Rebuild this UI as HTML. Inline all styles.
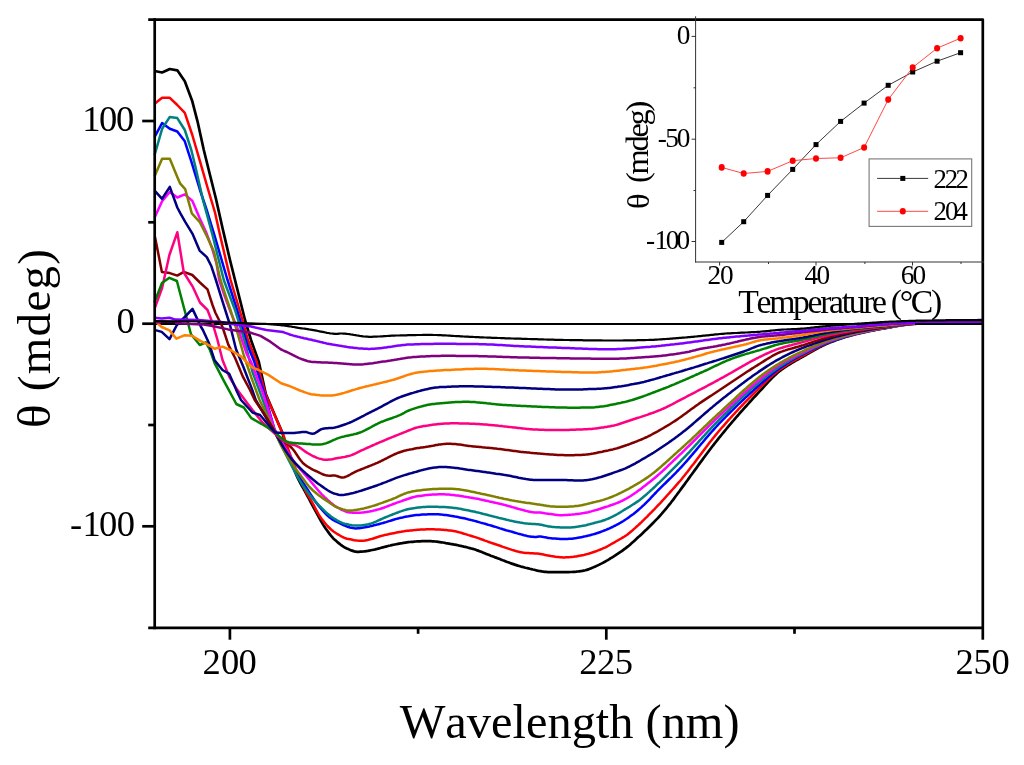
<!DOCTYPE html>
<html><head><meta charset="utf-8"><style>
html,body{margin:0;padding:0;background:#fff;}
body{width:1024px;height:765px;overflow:hidden;}
svg{display:block;will-change:transform;}
text{font-family:"Liberation Serif",serif;fill:#000;}
</style></head><body>
<svg width="1024" height="765" viewBox="0 0 1024 765">
<rect width="1024" height="765" fill="#fff"/>
<line x1="154.7" y1="324" x2="982.8" y2="324" stroke="#000" stroke-width="2"/>
<g id="curves">
<polyline points="154.6,71.0 162.1,72.5 169.8,69.0 177.3,70.3 184.8,81.3 192.3,101.3 197.5,121.3 203.8,150.0 210.0,175.0 216.0,199.0 222.5,228.0 230.0,260.0 238.0,292.0 245.0,320.0 251.0,340.0 258.8,361.8 265.8,394.0 274.5,414.5 282.3,432.5 283.8,437.9 285.3,443.2 286.8,448.2 288.3,452.9 289.8,457.3 291.3,461.7 292.8,465.9 294.3,469.9 295.8,473.7 297.3,477.1 298.8,480.2 300.3,483.0 301.8,485.8 303.3,488.4 304.8,491.1 306.3,493.8 307.8,496.6 309.3,499.4 310.8,502.3 312.3,505.1 313.8,507.9 315.3,510.7 316.8,513.4 318.3,516.1 319.8,518.9 321.3,521.5 322.8,524.1 324.3,526.5 325.8,528.7 327.3,530.8 328.8,532.9 330.3,534.9 331.8,536.7 333.3,538.4 334.8,539.8 336.3,541.1 337.8,542.4 339.3,543.6 340.8,544.8 342.3,545.9 343.8,546.9 345.3,547.8 346.8,548.5 348.3,549.1 349.8,549.8 351.3,550.4 352.8,550.9 354.3,551.4 355.8,551.7 357.3,551.8 358.8,551.8 360.3,551.7 361.8,551.6 363.3,551.5 364.8,551.3 366.3,551.1 367.8,550.9 369.3,550.6 370.8,550.3 372.3,550.0 373.8,549.7 375.3,549.4 376.8,549.0 378.3,548.6 379.8,548.2 381.3,547.8 382.8,547.4 384.3,547.0 385.8,546.6 387.3,546.2 388.8,545.8 390.3,545.5 391.8,545.1 393.3,544.8 394.8,544.5 396.3,544.2 397.8,543.9 399.3,543.6 400.8,543.3 402.3,543.1 403.8,542.8 405.3,542.6 406.8,542.4 408.3,542.2 409.8,542.0 411.3,541.9 412.8,541.8 414.3,541.6 415.8,541.5 417.3,541.4 418.8,541.3 420.3,541.3 421.8,541.2 423.3,541.2 424.8,541.2 426.3,541.1 427.8,541.2 429.3,541.2 430.8,541.2 432.3,541.3 433.8,541.4 435.3,541.5 436.8,541.7 438.3,541.9 439.8,542.1 441.3,542.3 442.8,542.5 444.3,542.8 445.8,543.1 447.3,543.3 448.8,543.6 450.3,543.9 451.8,544.1 453.3,544.4 454.8,544.7 456.3,544.9 457.8,545.2 459.3,545.6 460.8,545.9 462.3,546.2 463.8,546.6 465.3,546.9 466.8,547.3 468.3,547.7 469.8,548.1 471.3,548.5 472.8,548.9 474.3,549.3 475.8,549.8 477.3,550.4 478.8,550.9 480.3,551.5 481.8,552.1 483.3,552.7 484.8,553.3 486.3,553.9 487.8,554.5 489.3,555.1 490.8,555.7 492.3,556.2 493.8,556.8 495.3,557.4 496.8,557.9 498.3,558.5 499.8,559.1 501.3,559.7 502.8,560.3 504.3,560.8 505.8,561.4 507.3,562.0 508.8,562.5 510.3,563.1 511.8,563.6 513.3,564.1 514.8,564.6 516.3,565.1 517.8,565.6 519.3,566.0 520.8,566.5 522.3,566.9 523.8,567.3 525.3,567.7 526.8,568.0 528.3,568.4 529.8,568.8 531.3,569.1 532.8,569.5 534.3,569.8 535.8,570.2 537.3,570.6 538.8,570.9 540.3,571.1 541.8,571.4 543.3,571.6 544.8,571.8 546.3,571.9 547.8,572.1 549.3,572.2 550.8,572.2 552.3,572.2 553.8,572.2 555.3,572.2 556.8,572.2 558.3,572.2 559.8,572.2 561.3,572.2 562.8,572.2 564.3,572.2 565.8,572.1 567.3,572.1 568.8,572.1 570.3,572.0 571.8,572.0 573.3,571.9 574.8,571.8 576.3,571.7 577.8,571.5 579.3,571.3 580.8,571.1 582.3,570.9 583.8,570.6 585.3,570.3 586.8,569.9 588.3,569.4 589.8,568.8 591.3,568.2 592.8,567.6 594.3,566.9 595.8,566.3 597.3,565.6 598.8,564.9 600.3,564.1 601.8,563.4 603.3,562.6 604.8,561.8 606.3,560.9 607.8,560.1 609.3,559.2 610.8,558.2 612.3,557.3 613.8,556.4 615.3,555.4 616.8,554.4 618.3,553.4 619.8,552.4 621.3,551.4 622.8,550.3 624.3,549.2 625.8,548.1 627.3,546.9 628.8,545.7 630.3,544.4 631.8,543.1 633.3,541.8 634.8,540.4 636.3,539.0 637.8,537.6 639.3,536.3 640.8,534.9 642.3,533.5 643.8,532.0 645.3,530.6 646.8,529.2 648.3,527.7 649.8,526.2 651.3,524.7 652.8,523.2 654.3,521.7 655.8,520.1 657.3,518.6 658.8,517.0 660.3,515.3 661.8,513.7 663.3,511.9 664.8,510.2 666.3,508.4 667.8,506.5 669.3,504.6 670.8,502.8 672.3,500.8 673.8,498.9 675.3,496.8 676.8,494.8 678.3,492.7 679.8,490.7 681.3,488.6 682.8,486.6 684.3,484.6 685.8,482.5 687.3,480.5 688.8,478.4 690.3,476.3 691.8,474.3 693.3,472.2 694.8,470.1 696.3,468.1 697.8,466.0 699.3,463.9 700.8,461.9 702.3,459.9 703.8,457.8 705.3,455.8 706.8,453.8 708.3,451.8 709.8,449.8 711.3,447.8 712.8,445.8 714.3,443.9 715.8,442.0 717.3,440.1 718.8,438.2 720.3,436.3 721.8,434.5 723.3,432.7 724.8,430.8 726.3,429.0 727.8,427.2 729.3,425.4 730.8,423.7 732.3,421.9 733.8,420.2 735.3,418.4 736.8,416.7 738.3,415.0 739.8,413.2 741.3,411.5 742.8,409.9 744.3,408.2 745.8,406.5 747.3,404.8 748.8,403.2 750.3,401.5 751.8,399.9 753.3,398.2 754.8,396.6 756.3,395.0 757.8,393.4 759.3,391.7 760.8,390.1 762.3,388.5 763.8,386.9 765.3,385.2 766.8,383.6 768.3,381.9 769.8,380.3 771.3,378.8 772.8,377.2 774.3,375.8 775.8,374.4 777.3,373.0 778.8,371.7 780.3,370.6 781.8,369.5 783.3,368.4 784.8,367.4 786.3,366.4 787.8,365.4 789.3,364.5 790.8,363.6 792.3,362.7 793.8,361.8 795.3,360.9 796.8,360.1 798.3,359.3 799.8,358.4 801.3,357.6 802.8,356.7 804.3,355.9 805.8,355.0 807.3,354.1 808.8,353.3 810.3,352.4 811.8,351.5 813.3,350.7 814.8,349.9 816.3,349.0 817.8,348.2 819.3,347.4 820.8,346.7 822.3,345.9 823.8,345.2 825.3,344.5 826.8,343.8 828.3,343.2 829.8,342.6 831.3,342.0 832.8,341.4 834.3,340.9 835.8,340.3 837.3,339.8 838.8,339.3 840.3,338.8 841.8,338.3 843.3,337.8 844.8,337.3 846.3,336.8 847.8,336.4 849.3,336.0 850.8,335.5 852.3,335.1 853.8,334.7 855.3,334.3 856.8,334.0 858.3,333.6 859.8,333.2 861.3,332.9 862.8,332.6 864.3,332.2 865.8,331.9 867.3,331.6 868.8,331.3 870.3,331.0 871.8,330.7 873.3,330.4 874.8,330.1 876.3,329.8 877.8,329.5 879.3,329.2 880.8,328.9 882.3,328.7 883.8,328.4 885.3,328.1 886.8,327.9 888.3,327.6 889.8,327.3 891.3,327.1 892.8,326.8 894.3,326.5 895.8,326.3 897.3,326.0 898.8,325.7 900.3,325.5 901.8,325.2 903.3,325.0 904.8,324.8 906.3,324.6 907.8,324.4 909.3,324.3 910.8,324.1 912.3,324.0 913.8,323.9 915.3,323.8 916.8,323.7 918.3,323.6 919.8,323.5 921.3,323.4 922.8,323.3 924.3,323.2 925.8,323.1 927.3,323.0 928.8,323.0 930.3,322.9 931.8,322.8 933.3,322.8 934.8,322.7 936.3,322.7 937.8,322.6 939.3,322.6 940.8,322.6 942.3,322.6 943.8,322.6 945.3,322.5 946.8,322.5 948.3,322.5 949.8,322.5 951.3,322.5 952.8,322.5 954.3,322.5 955.8,322.5 957.3,322.5 958.8,322.5 960.3,322.5 961.8,322.5 963.3,322.5 964.8,322.5 966.3,322.5 967.8,322.5 969.3,322.5 970.8,322.5 972.3,322.5 973.8,322.5 975.3,322.6 976.8,322.6 978.3,322.6 979.8,322.6 981.3,322.7 982.8,322.7 983.0,322.7" fill="none" stroke="#000000" stroke-width="2.7" stroke-linejoin="round"/>
<polyline points="154.6,103.8 162.1,97.8 169.8,97.8 177.3,105.0 184.8,112.8 192.3,135.0 200.0,161.3 207.5,187.5 215.0,212.5 220.0,235.0 230.6,280.0 242.5,320.0 248.0,340.0 256.6,361.8 265.8,395.0 275.0,416.0 284.0,436.8 285.5,441.3 287.0,445.6 288.5,449.9 290.0,454.1 291.5,458.1 293.0,462.0 294.5,465.8 296.0,469.6 297.5,473.3 299.0,476.9 300.5,480.4 302.0,483.8 303.5,487.0 305.0,490.0 306.5,492.8 308.0,495.4 309.5,497.9 311.0,500.4 312.5,503.0 314.0,505.7 315.5,508.6 317.0,511.4 318.5,514.1 320.0,516.6 321.5,518.7 323.0,520.6 324.5,522.5 326.0,524.3 327.5,526.0 329.0,527.5 330.5,529.0 332.0,530.3 333.5,531.5 335.0,532.5 336.5,533.5 338.0,534.4 339.5,535.3 341.0,536.2 342.5,537.0 344.0,537.7 345.5,538.3 347.0,538.7 348.5,539.0 350.0,539.3 351.5,539.6 353.0,539.9 354.5,540.2 356.0,540.4 357.5,540.6 359.0,540.7 360.5,540.8 362.0,540.8 363.5,540.7 365.0,540.5 366.5,540.2 368.0,539.9 369.5,539.5 371.0,539.1 372.5,538.7 374.0,538.2 375.5,537.7 377.0,537.2 378.5,536.8 380.0,536.3 381.5,535.9 383.0,535.5 384.5,535.1 386.0,534.8 387.5,534.5 389.0,534.1 390.5,533.8 392.0,533.5 393.5,533.2 395.0,532.9 396.5,532.6 398.0,532.3 399.5,532.0 401.0,531.8 402.5,531.5 404.0,531.3 405.5,531.0 407.0,530.8 408.5,530.7 410.0,530.5 411.5,530.4 413.0,530.2 414.5,530.1 416.0,529.9 417.5,529.8 419.0,529.7 420.5,529.6 422.0,529.5 423.5,529.4 425.0,529.4 426.5,529.3 428.0,529.3 429.5,529.3 431.0,529.3 432.5,529.3 434.0,529.3 435.5,529.4 437.0,529.5 438.5,529.5 440.0,529.6 441.5,529.7 443.0,529.8 444.5,530.0 446.0,530.1 447.5,530.2 449.0,530.4 450.5,530.6 452.0,530.8 453.5,531.0 455.0,531.3 456.5,531.6 458.0,532.0 459.5,532.4 461.0,532.8 462.5,533.2 464.0,533.7 465.5,534.1 467.0,534.6 468.5,535.1 470.0,535.5 471.5,536.0 473.0,536.5 474.5,536.9 476.0,537.4 477.5,537.9 479.0,538.4 480.5,539.0 482.0,539.5 483.5,540.0 485.0,540.6 486.5,541.1 488.0,541.7 489.5,542.2 491.0,542.8 492.5,543.3 494.0,543.8 495.5,544.3 497.0,544.8 498.5,545.3 500.0,545.8 501.5,546.3 503.0,546.9 504.5,547.4 506.0,547.9 507.5,548.4 509.0,548.9 510.5,549.4 512.0,549.9 513.5,550.3 515.0,550.8 516.5,551.2 518.0,551.6 519.5,551.9 521.0,552.2 522.5,552.5 524.0,552.7 525.5,552.9 527.0,553.0 528.5,553.1 530.0,553.2 531.5,553.2 533.0,553.3 534.5,553.4 536.0,553.5 537.5,553.6 539.0,553.8 540.5,554.0 542.0,554.3 543.5,554.6 545.0,554.9 546.5,555.2 548.0,555.5 549.5,555.8 551.0,556.1 552.5,556.3 554.0,556.5 555.5,556.8 557.0,557.0 558.5,557.1 560.0,557.2 561.5,557.3 563.0,557.4 564.5,557.4 566.0,557.3 567.5,557.3 569.0,557.2 570.5,557.1 572.0,556.9 573.5,556.8 575.0,556.6 576.5,556.4 578.0,556.1 579.5,555.8 581.0,555.5 582.5,555.2 584.0,554.9 585.5,554.5 587.0,554.1 588.5,553.7 590.0,553.2 591.5,552.8 593.0,552.3 594.5,551.8 596.0,551.3 597.5,550.7 599.0,550.1 600.5,549.5 602.0,548.9 603.5,548.2 605.0,547.6 606.5,546.8 608.0,546.0 609.5,545.2 611.0,544.3 612.5,543.4 614.0,542.6 615.5,541.7 617.0,540.8 618.5,540.0 620.0,539.2 621.5,538.3 623.0,537.4 624.5,536.5 626.0,535.5 627.5,534.4 629.0,533.2 630.5,532.0 632.0,530.8 633.5,529.4 635.0,528.1 636.5,526.7 638.0,525.4 639.5,524.0 641.0,522.6 642.5,521.1 644.0,519.7 645.5,518.2 647.0,516.8 648.5,515.2 650.0,513.7 651.5,512.2 653.0,510.6 654.5,509.1 656.0,507.5 657.5,505.9 659.0,504.3 660.5,502.8 662.0,501.1 663.5,499.5 665.0,497.8 666.5,496.2 668.0,494.5 669.5,492.8 671.0,491.1 672.5,489.5 674.0,487.8 675.5,486.1 677.0,484.4 678.5,482.7 680.0,481.0 681.5,479.2 683.0,477.3 684.5,475.5 686.0,473.6 687.5,471.7 689.0,469.7 690.5,467.8 692.0,465.8 693.5,463.9 695.0,461.9 696.5,459.9 698.0,457.9 699.5,455.9 701.0,453.9 702.5,451.9 704.0,449.9 705.5,447.9 707.0,446.0 708.5,444.0 710.0,442.1 711.5,440.2 713.0,438.3 714.5,436.4 716.0,434.6 717.5,432.8 719.0,431.0 720.5,429.2 722.0,427.5 723.5,425.8 725.0,424.1 726.5,422.4 728.0,420.7 729.5,419.0 731.0,417.3 732.5,415.7 734.0,414.1 735.5,412.4 737.0,410.8 738.5,409.2 740.0,407.6 741.5,406.0 743.0,404.5 744.5,402.9 746.0,401.4 747.5,399.8 749.0,398.3 750.5,396.8 752.0,395.3 753.5,393.8 755.0,392.3 756.5,390.8 758.0,389.3 759.5,387.9 761.0,386.4 762.5,385.0 764.0,383.5 765.5,382.1 767.0,380.6 768.5,379.2 770.0,377.8 771.5,376.5 773.0,375.1 774.5,373.8 776.0,372.6 777.5,371.4 779.0,370.2 780.5,369.1 782.0,368.1 783.5,367.1 785.0,366.1 786.5,365.1 788.0,364.2 789.5,363.3 791.0,362.4 792.5,361.5 794.0,360.6 795.5,359.8 797.0,359.0 798.5,358.1 800.0,357.3 801.5,356.5 803.0,355.6 804.5,354.8 806.0,354.0 807.5,353.1 809.0,352.3 810.5,351.5 812.0,350.6 813.5,349.8 815.0,349.0 816.5,348.2 818.0,347.4 819.5,346.7 821.0,345.9 822.5,345.2 824.0,344.5 825.5,343.8 827.0,343.2 828.5,342.6 830.0,342.0 831.5,341.4 833.0,340.9 834.5,340.4 836.0,339.8 837.5,339.3 839.0,338.8 840.5,338.3 842.0,337.9 843.5,337.4 845.0,336.9 846.5,336.5 848.0,336.0 849.5,335.6 851.0,335.2 852.5,334.8 854.0,334.4 855.5,334.1 857.0,333.7 858.5,333.3 860.0,333.0 861.5,332.7 863.0,332.3 864.5,332.0 866.0,331.7 867.5,331.4 869.0,331.1 870.5,330.8 872.0,330.5 873.5,330.2 875.0,329.9 876.5,329.6 878.0,329.3 879.5,329.1 881.0,328.8 882.5,328.5 884.0,328.2 885.5,328.0 887.0,327.7 888.5,327.5 890.0,327.2 891.5,326.9 893.0,326.7 894.5,326.4 896.0,326.1 897.5,325.9 899.0,325.6 900.5,325.3 902.0,325.1 903.5,324.9 905.0,324.6 906.5,324.5 908.0,324.3 909.5,324.1 911.0,324.0 912.5,323.9 914.0,323.8 915.5,323.7 917.0,323.6 918.5,323.5 920.0,323.4 921.5,323.3 923.0,323.2 924.5,323.1 926.0,323.1 927.5,323.0 929.0,322.9 930.5,322.9 932.0,322.8 933.5,322.7 935.0,322.7 936.5,322.7 938.0,322.6 939.5,322.6 941.0,322.6 942.5,322.6 944.0,322.6 945.5,322.5 947.0,322.5 948.5,322.5 950.0,322.5 951.5,322.5 953.0,322.5 954.5,322.5 956.0,322.5 957.5,322.5 959.0,322.5 960.5,322.5 962.0,322.5 963.5,322.5 965.0,322.5 966.5,322.5 968.0,322.5 969.5,322.5 971.0,322.5 972.5,322.5 974.0,322.6 975.5,322.6 977.0,322.6 978.5,322.6 980.0,322.6 981.5,322.7 983.0,322.7" fill="none" stroke="#ff0000" stroke-width="2.5" stroke-linejoin="round"/>
<polyline points="154.6,136.9 162.1,123.1 169.8,128.8 177.3,131.5 184.8,141.3 191.3,161.3 200.0,190.0 207.5,212.5 214.4,235.0 226.9,278.0 237.5,311.3 247.5,345.0 254.3,361.8 264.2,393.2 275.0,431.0 276.5,434.1 278.0,437.1 279.5,440.2 281.0,443.2 282.5,446.2 284.0,449.1 285.5,452.0 287.0,454.9 288.5,457.8 290.0,460.6 291.5,463.3 293.0,466.0 294.5,468.7 296.0,471.3 297.5,473.8 299.0,476.3 300.5,478.7 302.0,481.1 303.5,483.4 305.0,485.7 306.5,488.0 308.0,490.3 309.5,492.6 311.0,494.9 312.5,497.2 314.0,499.5 315.5,501.7 317.0,503.8 318.5,505.7 320.0,507.5 321.5,509.2 323.0,510.8 324.5,512.5 326.0,514.0 327.5,515.5 329.0,516.9 330.5,518.1 332.0,519.2 333.5,520.2 335.0,521.0 336.5,521.7 338.0,522.4 339.5,523.2 341.0,523.9 342.5,524.6 344.0,525.3 345.5,525.9 347.0,526.5 348.5,527.0 350.0,527.5 351.5,527.8 353.0,528.1 354.5,528.3 356.0,528.4 357.5,528.3 359.0,528.2 360.5,528.0 362.0,527.8 363.5,527.5 365.0,527.3 366.5,527.0 368.0,526.7 369.5,526.4 371.0,526.0 372.5,525.7 374.0,525.3 375.5,524.9 377.0,524.6 378.5,524.2 380.0,523.8 381.5,523.4 383.0,523.0 384.5,522.5 386.0,522.1 387.5,521.6 389.0,521.1 390.5,520.7 392.0,520.2 393.5,519.7 395.0,519.3 396.5,518.9 398.0,518.5 399.5,518.1 401.0,517.8 402.5,517.5 404.0,517.1 405.5,516.8 407.0,516.5 408.5,516.3 410.0,516.0 411.5,515.7 413.0,515.5 414.5,515.3 416.0,515.1 417.5,515.0 419.0,514.9 420.5,514.7 422.0,514.6 423.5,514.5 425.0,514.4 426.5,514.4 428.0,514.3 429.5,514.3 431.0,514.2 432.5,514.2 434.0,514.2 435.5,514.2 437.0,514.3 438.5,514.3 440.0,514.4 441.5,514.6 443.0,514.7 444.5,514.9 446.0,515.1 447.5,515.3 449.0,515.5 450.5,515.8 452.0,516.0 453.5,516.3 455.0,516.6 456.5,516.8 458.0,517.1 459.5,517.4 461.0,517.7 462.5,518.0 464.0,518.3 465.5,518.6 467.0,519.0 468.5,519.4 470.0,519.7 471.5,520.1 473.0,520.5 474.5,520.9 476.0,521.3 477.5,521.7 479.0,522.1 480.5,522.6 482.0,523.0 483.5,523.4 485.0,523.8 486.5,524.2 488.0,524.7 489.5,525.1 491.0,525.5 492.5,526.0 494.0,526.5 495.5,526.9 497.0,527.4 498.5,527.9 500.0,528.4 501.5,528.8 503.0,529.3 504.5,529.7 506.0,530.2 507.5,530.6 509.0,531.0 510.5,531.4 512.0,531.8 513.5,532.3 515.0,532.7 516.5,533.1 518.0,533.6 519.5,534.0 521.0,534.4 522.5,534.8 524.0,535.2 525.5,535.5 527.0,535.9 528.5,536.2 530.0,536.4 531.5,536.7 533.0,536.8 534.5,537.0 536.0,537.0 537.5,536.8 539.0,536.6 540.5,536.6 542.0,536.8 543.5,537.1 545.0,537.3 546.5,537.6 548.0,537.9 549.5,538.1 551.0,538.2 552.5,538.4 554.0,538.5 555.5,538.6 557.0,538.7 558.5,538.8 560.0,538.9 561.5,538.9 563.0,538.9 564.5,538.9 566.0,538.9 567.5,538.9 569.0,538.8 570.5,538.8 572.0,538.7 573.5,538.5 575.0,538.3 576.5,538.1 578.0,537.8 579.5,537.5 581.0,537.2 582.5,536.9 584.0,536.6 585.5,536.3 587.0,535.9 588.5,535.6 590.0,535.2 591.5,534.8 593.0,534.4 594.5,534.0 596.0,533.5 597.5,533.0 599.0,532.5 600.5,532.0 602.0,531.4 603.5,530.8 605.0,530.3 606.5,529.7 608.0,529.0 609.5,528.4 611.0,527.7 612.5,527.0 614.0,526.2 615.5,525.5 617.0,524.7 618.5,523.9 620.0,523.0 621.5,522.1 623.0,521.2 624.5,520.2 626.0,519.3 627.5,518.3 629.0,517.2 630.5,516.1 632.0,515.0 633.5,513.9 635.0,512.7 636.5,511.5 638.0,510.2 639.5,508.9 641.0,507.6 642.5,506.2 644.0,504.8 645.5,503.3 647.0,501.8 648.5,500.3 650.0,498.8 651.5,497.2 653.0,495.6 654.5,494.0 656.0,492.5 657.5,490.9 659.0,489.4 660.5,487.9 662.0,486.4 663.5,484.9 665.0,483.5 666.5,482.0 668.0,480.5 669.5,479.0 671.0,477.6 672.5,476.1 674.0,474.6 675.5,473.1 677.0,471.5 678.5,470.0 680.0,468.4 681.5,466.8 683.0,465.2 684.5,463.5 686.0,461.8 687.5,460.1 689.0,458.4 690.5,456.6 692.0,454.9 693.5,453.1 695.0,451.4 696.5,449.6 698.0,447.8 699.5,446.0 701.0,444.2 702.5,442.5 704.0,440.7 705.5,438.9 707.0,437.2 708.5,435.4 710.0,433.7 711.5,432.0 713.0,430.3 714.5,428.6 716.0,427.0 717.5,425.3 719.0,423.7 720.5,422.2 722.0,420.6 723.5,419.1 725.0,417.6 726.5,416.0 728.0,414.5 729.5,413.0 731.0,411.5 732.5,410.1 734.0,408.6 735.5,407.1 737.0,405.7 738.5,404.2 740.0,402.8 741.5,401.4 743.0,400.0 744.5,398.6 746.0,397.2 747.5,395.8 749.0,394.4 750.5,393.0 752.0,391.7 753.5,390.3 755.0,388.9 756.5,387.6 758.0,386.3 759.5,384.9 761.0,383.6 762.5,382.3 764.0,381.0 765.5,379.7 767.0,378.4 768.5,377.1 770.0,375.8 771.5,374.5 773.0,373.3 774.5,372.1 776.0,370.9 777.5,369.8 779.0,368.7 780.5,367.7 782.0,366.6 783.5,365.6 785.0,364.6 786.5,363.6 788.0,362.7 789.5,361.7 791.0,360.8 792.5,359.9 794.0,359.0 795.5,358.1 797.0,357.3 798.5,356.5 800.0,355.7 801.5,354.9 803.0,354.1 804.5,353.4 806.0,352.6 807.5,351.8 809.0,351.0 810.5,350.3 812.0,349.5 813.5,348.8 815.0,348.1 816.5,347.3 818.0,346.6 819.5,346.0 821.0,345.3 822.5,344.6 824.0,344.0 825.5,343.4 827.0,342.8 828.5,342.2 830.0,341.7 831.5,341.2 833.0,340.7 834.5,340.2 836.0,339.6 837.5,339.2 839.0,338.7 840.5,338.2 842.0,337.7 843.5,337.3 845.0,336.8 846.5,336.4 848.0,335.9 849.5,335.5 851.0,335.1 852.5,334.7 854.0,334.3 855.5,334.0 857.0,333.6 858.5,333.2 860.0,332.9 861.5,332.6 863.0,332.2 864.5,331.9 866.0,331.6 867.5,331.3 869.0,331.0 870.5,330.7 872.0,330.4 873.5,330.1 875.0,329.8 876.5,329.5 878.0,329.2 879.5,328.9 881.0,328.7 882.5,328.4 884.0,328.1 885.5,327.9 887.0,327.6 888.5,327.4 890.0,327.1 891.5,326.8 893.0,326.6 894.5,326.3 896.0,326.1 897.5,325.8 899.0,325.6 900.5,325.3 902.0,325.1 903.5,324.9 905.0,324.6 906.5,324.5 908.0,324.3 909.5,324.1 911.0,324.0 912.5,323.9 914.0,323.8 915.5,323.7 917.0,323.6 918.5,323.5 920.0,323.3 921.5,323.2 923.0,323.2 924.5,323.1 926.0,323.0 927.5,322.9 929.0,322.8 930.5,322.7 932.0,322.6 933.5,322.5 935.0,322.4 936.5,322.4 938.0,322.3 939.5,322.2 941.0,322.1 942.5,322.0 944.0,322.0 945.5,321.9 947.0,321.8 948.5,321.7 950.0,321.6 951.5,321.5 953.0,321.5 954.5,321.4 956.0,321.3 957.5,321.2 959.0,321.1 960.5,321.0 962.0,321.0 963.5,320.9 965.0,320.8 966.5,320.7 968.0,320.6 969.5,320.6 971.0,320.5 972.5,320.4 974.0,320.3 975.5,320.3 977.0,320.2 978.5,320.1 980.0,320.0 981.5,320.0 983.0,319.9" fill="none" stroke="#0000ff" stroke-width="2.5" stroke-linejoin="round"/>
<polyline points="154.6,155.0 162.1,128.8 169.8,116.9 177.3,118.1 184.8,130.0 191.3,150.0 195.0,165.0 203.0,200.0 212.5,235.0 223.8,280.0 235.0,310.0 245.0,342.5 252.5,372.0 274.0,430.0 275.5,433.2 277.0,436.3 278.5,439.5 280.0,442.6 281.5,445.7 283.0,448.7 284.5,451.7 286.0,454.7 287.5,457.7 289.0,460.6 290.5,463.5 292.0,466.3 293.5,469.2 295.0,472.1 296.5,474.9 298.0,477.6 299.5,480.2 301.0,482.7 302.5,485.0 304.0,487.2 305.5,489.3 307.0,491.3 308.5,493.3 310.0,495.2 311.5,497.1 313.0,498.8 314.5,500.6 316.0,502.2 317.5,503.8 319.0,505.4 320.5,506.9 322.0,508.4 323.5,509.9 325.0,511.4 326.5,512.8 328.0,514.1 329.5,515.3 331.0,516.5 332.5,517.5 334.0,518.5 335.5,519.4 337.0,520.3 338.5,521.2 340.0,522.0 341.5,522.6 343.0,523.2 344.5,523.7 346.0,524.0 347.5,524.3 349.0,524.7 350.5,524.9 352.0,525.2 353.5,525.4 355.0,525.5 356.5,525.6 358.0,525.6 359.5,525.5 361.0,525.4 362.5,525.2 364.0,525.0 365.5,524.8 367.0,524.5 368.5,524.2 370.0,523.8 371.5,523.4 373.0,522.8 374.5,522.2 376.0,521.6 377.5,520.9 379.0,520.2 380.5,519.5 382.0,518.8 383.5,518.1 385.0,517.5 386.5,516.9 388.0,516.3 389.5,515.7 391.0,515.1 392.5,514.5 394.0,513.9 395.5,513.3 397.0,512.7 398.5,512.2 400.0,511.6 401.5,511.1 403.0,510.6 404.5,510.1 406.0,509.7 407.5,509.3 409.0,509.0 410.5,508.7 412.0,508.4 413.5,508.2 415.0,508.0 416.5,507.7 418.0,507.5 419.5,507.4 421.0,507.2 422.5,507.1 424.0,506.9 425.5,506.9 427.0,506.8 428.5,506.8 430.0,506.8 431.5,506.8 433.0,506.8 434.5,506.8 436.0,506.8 437.5,506.8 439.0,506.9 440.5,506.9 442.0,507.0 443.5,507.1 445.0,507.1 446.5,507.2 448.0,507.3 449.5,507.5 451.0,507.6 452.5,507.7 454.0,507.9 455.5,508.1 457.0,508.3 458.5,508.6 460.0,508.8 461.5,509.1 463.0,509.4 464.5,509.7 466.0,510.0 467.5,510.3 469.0,510.6 470.5,510.9 472.0,511.2 473.5,511.5 475.0,511.8 476.5,512.2 478.0,512.5 479.5,512.9 481.0,513.3 482.5,513.7 484.0,514.1 485.5,514.4 487.0,514.8 488.5,515.2 490.0,515.6 491.5,516.0 493.0,516.4 494.5,516.8 496.0,517.1 497.5,517.5 499.0,517.9 500.5,518.2 502.0,518.6 503.5,518.9 505.0,519.3 506.5,519.7 508.0,520.0 509.5,520.4 511.0,520.7 512.5,521.1 514.0,521.4 515.5,521.7 517.0,522.0 518.5,522.3 520.0,522.6 521.5,522.8 523.0,523.1 524.5,523.3 526.0,523.4 527.5,523.6 529.0,523.7 530.5,523.8 532.0,523.9 533.5,524.0 535.0,524.1 536.5,524.2 538.0,524.3 539.5,524.5 541.0,524.8 542.5,525.1 544.0,525.4 545.5,525.8 547.0,526.1 548.5,526.4 550.0,526.6 551.5,526.8 553.0,526.9 554.5,527.1 556.0,527.2 557.5,527.3 559.0,527.3 560.5,527.4 562.0,527.4 563.5,527.5 565.0,527.5 566.5,527.5 568.0,527.5 569.5,527.5 571.0,527.4 572.5,527.3 574.0,527.2 575.5,527.0 577.0,526.8 578.5,526.6 580.0,526.3 581.5,526.1 583.0,525.8 584.5,525.5 586.0,525.2 587.5,524.8 589.0,524.4 590.5,524.0 592.0,523.6 593.5,523.2 595.0,522.8 596.5,522.4 598.0,522.0 599.5,521.6 601.0,521.2 602.5,520.7 604.0,520.2 605.5,519.7 607.0,519.1 608.5,518.5 610.0,517.8 611.5,517.1 613.0,516.4 614.5,515.6 616.0,514.8 617.5,514.0 619.0,513.1 620.5,512.2 622.0,511.3 623.5,510.3 625.0,509.4 626.5,508.5 628.0,507.6 629.5,506.7 631.0,505.7 632.5,504.8 634.0,503.9 635.5,502.9 637.0,501.9 638.5,500.9 640.0,499.8 641.5,498.6 643.0,497.3 644.5,496.1 646.0,494.8 647.5,493.4 649.0,492.1 650.5,490.7 652.0,489.4 653.5,488.0 655.0,486.6 656.5,485.1 658.0,483.7 659.5,482.3 661.0,480.8 662.5,479.4 664.0,477.9 665.5,476.4 667.0,474.9 668.5,473.4 670.0,471.9 671.5,470.4 673.0,468.9 674.5,467.4 676.0,465.9 677.5,464.3 679.0,462.8 680.5,461.3 682.0,459.7 683.5,458.2 685.0,456.6 686.5,455.0 688.0,453.4 689.5,451.8 691.0,450.1 692.5,448.5 694.0,446.9 695.5,445.2 697.0,443.6 698.5,441.9 700.0,440.2 701.5,438.6 703.0,436.9 704.5,435.3 706.0,433.6 707.5,432.0 709.0,430.4 710.5,428.8 712.0,427.2 713.5,425.6 715.0,424.0 716.5,422.5 718.0,420.9 719.5,419.4 721.0,417.9 722.5,416.4 724.0,414.9 725.5,413.4 727.0,412.0 728.5,410.5 730.0,409.0 731.5,407.5 733.0,406.1 734.5,404.6 736.0,403.2 737.5,401.8 739.0,400.3 740.5,398.9 742.0,397.5 743.5,396.1 745.0,394.8 746.5,393.4 748.0,392.0 749.5,390.7 751.0,389.3 752.5,388.0 754.0,386.7 755.5,385.4 757.0,384.1 758.5,382.9 760.0,381.6 761.5,380.4 763.0,379.1 764.5,377.9 766.0,376.7 767.5,375.5 769.0,374.4 770.5,373.2 772.0,372.1 773.5,371.0 775.0,369.9 776.5,368.9 778.0,367.8 779.5,366.8 781.0,365.9 782.5,364.9 784.0,363.9 785.5,363.0 787.0,362.1 788.5,361.2 790.0,360.3 791.5,359.4 793.0,358.6 794.5,357.7 796.0,356.9 797.5,356.1 799.0,355.3 800.5,354.5 802.0,353.8 803.5,353.0 805.0,352.3 806.5,351.5 808.0,350.8 809.5,350.0 811.0,349.3 812.5,348.6 814.0,347.9 815.5,347.2 817.0,346.5 818.5,345.8 820.0,345.1 821.5,344.5 823.0,343.8 824.5,343.2 826.0,342.7 827.5,342.1 829.0,341.5 830.5,341.0 832.0,340.5 833.5,340.0 835.0,339.5 836.5,339.1 838.0,338.6 839.5,338.1 841.0,337.7 842.5,337.2 844.0,336.8 845.5,336.3 847.0,335.9 848.5,335.5 850.0,335.1 851.5,334.7 853.0,334.3 854.5,334.0 856.0,333.6 857.5,333.3 859.0,332.9 860.5,332.6 862.0,332.3 863.5,332.0 865.0,331.6 866.5,331.3 868.0,331.0 869.5,330.7 871.0,330.4 872.5,330.1 874.0,329.8 875.5,329.6 877.0,329.3 878.5,329.0 880.0,328.7 881.5,328.5 883.0,328.2 884.5,327.9 886.0,327.7 887.5,327.4 889.0,327.2 890.5,326.9 892.0,326.7 893.5,326.4 895.0,326.1 896.5,325.9 898.0,325.6 899.5,325.4 901.0,325.1 902.5,324.9 904.0,324.7 905.5,324.5 907.0,324.3 908.5,324.1 910.0,324.0 911.5,323.9 913.0,323.8 914.5,323.7 916.0,323.6 917.5,323.5 919.0,323.4 920.5,323.3 922.0,323.2 923.5,323.1 925.0,323.1 926.5,323.0 928.0,322.9 929.5,322.9 931.0,322.8 932.5,322.8 934.0,322.7 935.5,322.7 937.0,322.6 938.5,322.6 940.0,322.6 941.5,322.6 943.0,322.6 944.5,322.6 946.0,322.5 947.5,322.5 949.0,322.5 950.5,322.5 952.0,322.5 953.5,322.5 955.0,322.5 956.5,322.5 958.0,322.5 959.5,322.5 961.0,322.5 962.5,322.5 964.0,322.5 965.5,322.5 967.0,322.5 968.5,322.5 970.0,322.5 971.5,322.5 973.0,322.5 974.5,322.6 976.0,322.6 977.5,322.6 979.0,322.6 980.5,322.7 982.0,322.7 983.0,322.7" fill="none" stroke="#008080" stroke-width="2.5" stroke-linejoin="round"/>
<polyline points="154.6,217.5 162.1,201.3 169.8,191.9 177.3,197.5 184.8,194.4 192.4,200.9 199.6,217.9 206.1,232.3 212.0,248.0 216.6,263.7 219.2,280.0 225.0,297.0 231.3,313.8 239.1,332.0 246.9,354.4 251.0,361.8 263.0,393.2 274.0,428.0 283.8,445.0 285.3,447.7 286.8,450.3 288.3,452.9 289.8,455.4 291.3,457.7 292.8,459.9 294.3,462.0 295.8,463.9 297.3,465.7 298.8,467.5 300.3,469.3 301.8,471.0 303.3,472.7 304.8,474.4 306.3,476.1 307.8,477.9 309.3,479.6 310.8,481.5 312.3,483.3 313.8,485.1 315.3,487.0 316.8,488.7 318.3,490.5 319.8,492.2 321.3,493.8 322.8,495.3 324.3,496.8 325.8,498.2 327.3,499.7 328.8,501.0 330.3,502.4 331.8,503.6 333.3,504.8 334.8,505.9 336.3,506.8 337.8,507.7 339.3,508.5 340.8,509.3 342.3,510.0 343.8,510.7 345.3,511.3 346.8,511.9 348.3,512.2 349.8,512.5 351.3,512.6 352.8,512.7 354.3,512.8 355.8,512.8 357.3,512.8 358.8,512.8 360.3,512.7 361.8,512.6 363.3,512.4 364.8,512.2 366.3,512.0 367.8,511.7 369.3,511.5 370.8,511.2 372.3,510.9 373.8,510.5 375.3,510.2 376.8,509.8 378.3,509.4 379.8,509.0 381.3,508.5 382.8,508.0 384.3,507.5 385.8,506.9 387.3,506.3 388.8,505.8 390.3,505.2 391.8,504.6 393.3,504.0 394.8,503.5 396.3,502.9 397.8,502.4 399.3,501.9 400.8,501.4 402.3,500.8 403.8,500.3 405.3,499.7 406.8,499.2 408.3,498.7 409.8,498.2 411.3,497.7 412.8,497.3 414.3,496.9 415.8,496.6 417.3,496.3 418.8,496.1 420.3,495.9 421.8,495.7 423.3,495.5 424.8,495.3 426.3,495.1 427.8,495.0 429.3,494.8 430.8,494.7 432.3,494.6 433.8,494.5 435.3,494.4 436.8,494.4 438.3,494.3 439.8,494.3 441.3,494.3 442.8,494.3 444.3,494.3 445.8,494.4 447.3,494.5 448.8,494.6 450.3,494.7 451.8,494.9 453.3,495.0 454.8,495.2 456.3,495.4 457.8,495.6 459.3,495.8 460.8,496.0 462.3,496.2 463.8,496.5 465.3,496.7 466.8,497.0 468.3,497.2 469.8,497.5 471.3,497.7 472.8,498.0 474.3,498.3 475.8,498.5 477.3,498.8 478.8,499.1 480.3,499.4 481.8,499.8 483.3,500.1 484.8,500.4 486.3,500.7 487.8,501.0 489.3,501.4 490.8,501.7 492.3,502.1 493.8,502.4 495.3,502.7 496.8,503.1 498.3,503.4 499.8,503.8 501.3,504.1 502.8,504.5 504.3,504.9 505.8,505.3 507.3,505.7 508.8,506.1 510.3,506.5 511.8,507.0 513.3,507.4 514.8,507.8 516.3,508.3 517.8,508.7 519.3,509.1 520.8,509.5 522.3,509.9 523.8,510.3 525.3,510.7 526.8,511.1 528.3,511.4 529.8,511.7 531.3,512.0 532.8,512.2 534.3,512.4 535.8,512.6 537.3,512.6 538.8,512.5 540.3,512.6 541.8,512.8 543.3,513.0 544.8,513.3 546.3,513.5 547.8,513.7 549.3,513.9 550.8,514.1 552.3,514.3 553.8,514.5 555.3,514.7 556.8,514.9 558.3,515.1 559.8,515.2 561.3,515.2 562.8,515.2 564.3,515.1 565.8,515.1 567.3,514.9 568.8,514.8 570.3,514.7 571.8,514.6 573.3,514.4 574.8,514.3 576.3,514.1 577.8,514.0 579.3,513.8 580.8,513.6 582.3,513.3 583.8,513.1 585.3,512.8 586.8,512.5 588.3,512.2 589.8,511.8 591.3,511.4 592.8,510.9 594.3,510.5 595.8,510.1 597.3,509.7 598.8,509.2 600.3,508.8 601.8,508.3 603.3,507.8 604.8,507.3 606.3,506.8 607.8,506.4 609.3,505.8 610.8,505.3 612.3,504.8 613.8,504.3 615.3,503.7 616.8,503.1 618.3,502.5 619.8,501.9 621.3,501.2 622.8,500.5 624.3,499.7 625.8,498.9 627.3,498.0 628.8,497.1 630.3,496.2 631.8,495.2 633.3,494.2 634.8,493.2 636.3,492.2 637.8,491.1 639.3,490.0 640.8,488.9 642.3,487.8 643.8,486.6 645.3,485.5 646.8,484.3 648.3,483.1 649.8,481.9 651.3,480.7 652.8,479.5 654.3,478.3 655.8,477.0 657.3,475.7 658.8,474.4 660.3,473.1 661.8,471.8 663.3,470.4 664.8,469.0 666.3,467.6 667.8,466.2 669.3,464.7 670.8,463.3 672.3,461.9 673.8,460.4 675.3,459.0 676.8,457.6 678.3,456.1 679.8,454.7 681.3,453.3 682.8,451.8 684.3,450.4 685.8,448.9 687.3,447.4 688.8,446.0 690.3,444.5 691.8,443.0 693.3,441.5 694.8,440.0 696.3,438.5 697.8,437.0 699.3,435.5 700.8,434.0 702.3,432.5 703.8,431.0 705.3,429.5 706.8,428.0 708.3,426.5 709.8,425.0 711.3,423.6 712.8,422.1 714.3,420.6 715.8,419.2 717.3,417.8 718.8,416.3 720.3,414.9 721.8,413.5 723.3,412.1 724.8,410.7 726.3,409.3 727.8,407.9 729.3,406.5 730.8,405.1 732.3,403.7 733.8,402.3 735.3,400.9 736.8,399.5 738.3,398.2 739.8,396.8 741.3,395.4 742.8,394.1 744.3,392.7 745.8,391.4 747.3,390.1 748.8,388.8 750.3,387.5 751.8,386.2 753.3,384.9 754.8,383.6 756.3,382.3 757.8,381.1 759.3,379.9 760.8,378.7 762.3,377.4 763.8,376.2 765.3,375.0 766.8,373.9 768.3,372.7 769.8,371.6 771.3,370.4 772.8,369.3 774.3,368.3 775.8,367.2 777.3,366.2 778.8,365.2 780.3,364.3 781.8,363.4 783.3,362.5 784.8,361.7 786.3,360.8 787.8,360.0 789.3,359.2 790.8,358.4 792.3,357.6 793.8,356.8 795.3,356.1 796.8,355.3 798.3,354.6 799.8,353.9 801.3,353.2 802.8,352.5 804.3,351.7 805.8,351.0 807.3,350.3 808.8,349.6 810.3,348.8 811.8,348.1 813.3,347.4 814.8,346.7 816.3,346.1 817.8,345.4 819.3,344.7 820.8,344.1 822.3,343.5 823.8,342.9 825.3,342.3 826.8,341.7 828.3,341.2 829.8,340.7 831.3,340.2 832.8,339.7 834.3,339.2 835.8,338.8 837.3,338.3 838.8,337.8 840.3,337.4 841.8,337.0 843.3,336.6 844.8,336.1 846.3,335.7 847.8,335.3 849.3,335.0 850.8,334.6 852.3,334.2 853.8,333.9 855.3,333.5 856.8,333.2 858.3,332.9 859.8,332.5 861.3,332.2 862.8,331.9 864.3,331.6 865.8,331.3 867.3,331.0 868.8,330.7 870.3,330.5 871.8,330.2 873.3,329.9 874.8,329.6 876.3,329.3 877.8,329.1 879.3,328.8 880.8,328.6 882.3,328.3 883.8,328.0 885.3,327.8 886.8,327.5 888.3,327.3 889.8,327.0 891.3,326.8 892.8,326.5 894.3,326.3 895.8,326.0 897.3,325.7 898.8,325.5 900.3,325.2 901.8,325.0 903.3,324.8 904.8,324.5 906.3,324.4 907.8,324.2 909.3,324.1 910.8,323.9 912.3,323.8 913.8,323.7 915.3,323.6 916.8,323.5 918.3,323.4 919.8,323.3 921.3,323.3 922.8,323.2 924.3,323.1 925.8,323.0 927.3,323.0 928.8,322.9 930.3,322.8 931.8,322.8 933.3,322.7 934.8,322.7 936.3,322.7 937.8,322.6 939.3,322.6 940.8,322.6 942.3,322.6 943.8,322.6 945.3,322.5 946.8,322.5 948.3,322.5 949.8,322.5 951.3,322.5 952.8,322.5 954.3,322.5 955.8,322.5 957.3,322.5 958.8,322.5 960.3,322.5 961.8,322.5 963.3,322.5 964.8,322.5 966.3,322.5 967.8,322.5 969.3,322.5 970.8,322.5 972.3,322.5 973.8,322.6 975.3,322.6 976.8,322.6 978.3,322.6 979.8,322.6 981.3,322.7 982.8,322.7 983.0,322.7" fill="none" stroke="#ff00ff" stroke-width="2.5" stroke-linejoin="round"/>
<polyline points="154.6,176.3 162.1,158.8 169.8,158.8 177.3,177.0 180.0,183.3 185.2,189.2 191.8,213.3 199.6,221.8 207.5,237.5 214.0,251.9 217.9,268.9 220.5,280.0 225.0,294.0 231.3,312.5 237.5,333.0 244.0,356.0 251.8,378.8 259.6,400.0 274.0,430.0 275.5,433.4 277.0,436.7 278.5,439.9 280.0,443.1 281.5,446.1 283.0,448.9 284.5,451.6 286.0,454.2 287.5,456.6 289.0,459.0 290.5,461.3 292.0,463.6 293.5,465.7 295.0,467.9 296.5,469.9 298.0,472.0 299.5,474.0 301.0,476.1 302.5,478.1 304.0,480.1 305.5,482.1 307.0,484.0 308.5,485.8 310.0,487.5 311.5,489.0 313.0,490.5 314.5,491.8 316.0,493.0 317.5,494.2 319.0,495.4 320.5,496.5 322.0,497.6 323.5,498.6 325.0,499.6 326.5,500.6 328.0,501.6 329.5,502.7 331.0,503.7 332.5,504.8 334.0,505.7 335.5,506.6 337.0,507.3 338.5,507.9 340.0,508.4 341.5,508.9 343.0,509.4 344.5,509.8 346.0,510.2 347.5,510.4 349.0,510.5 350.5,510.5 352.0,510.4 353.5,510.3 355.0,510.1 356.5,509.9 358.0,509.6 359.5,509.4 361.0,509.0 362.5,508.7 364.0,508.4 365.5,508.0 367.0,507.6 368.5,507.2 370.0,506.8 371.5,506.4 373.0,505.9 374.5,505.5 376.0,505.0 377.5,504.5 379.0,503.9 380.5,503.4 382.0,502.9 383.5,502.3 385.0,501.8 386.5,501.2 388.0,500.7 389.5,500.1 391.0,499.6 392.5,499.0 394.0,498.4 395.5,497.8 397.0,497.1 398.5,496.4 400.0,495.7 401.5,495.0 403.0,494.4 404.5,493.7 406.0,493.2 407.5,492.6 409.0,492.2 410.5,491.9 412.0,491.6 413.5,491.3 415.0,491.1 416.5,490.8 418.0,490.6 419.5,490.4 421.0,490.2 422.5,490.0 424.0,489.8 425.5,489.7 427.0,489.5 428.5,489.4 430.0,489.3 431.5,489.2 433.0,489.1 434.5,489.0 436.0,489.0 437.5,488.9 439.0,488.8 440.5,488.8 442.0,488.8 443.5,488.7 445.0,488.7 446.5,488.7 448.0,488.7 449.5,488.7 451.0,488.8 452.5,488.8 454.0,488.9 455.5,489.0 457.0,489.2 458.5,489.3 460.0,489.5 461.5,489.8 463.0,490.0 464.5,490.2 466.0,490.5 467.5,490.8 469.0,491.1 470.5,491.4 472.0,491.7 473.5,492.0 475.0,492.3 476.5,492.7 478.0,493.0 479.5,493.3 481.0,493.7 482.5,494.0 484.0,494.3 485.5,494.6 487.0,494.9 488.5,495.2 490.0,495.6 491.5,495.9 493.0,496.3 494.5,496.6 496.0,497.0 497.5,497.3 499.0,497.7 500.5,498.0 502.0,498.3 503.5,498.7 505.0,499.0 506.5,499.3 508.0,499.6 509.5,499.9 511.0,500.2 512.5,500.5 514.0,500.7 515.5,501.0 517.0,501.2 518.5,501.5 520.0,501.7 521.5,502.0 523.0,502.2 524.5,502.4 526.0,502.7 527.5,502.9 529.0,503.1 530.5,503.3 532.0,503.6 533.5,503.8 535.0,504.0 536.5,504.2 538.0,504.4 539.5,504.6 541.0,504.9 542.5,505.1 544.0,505.4 545.5,505.6 547.0,505.9 548.5,506.1 550.0,506.3 551.5,506.4 553.0,506.5 554.5,506.6 556.0,506.7 557.5,506.7 559.0,506.8 560.5,506.8 562.0,506.8 563.5,506.8 565.0,506.8 566.5,506.7 568.0,506.7 569.5,506.6 571.0,506.5 572.5,506.4 574.0,506.3 575.5,506.1 577.0,505.9 578.5,505.7 580.0,505.4 581.5,505.2 583.0,504.9 584.5,504.6 586.0,504.3 587.5,503.9 589.0,503.5 590.5,503.1 592.0,502.7 593.5,502.3 595.0,502.0 596.5,501.6 598.0,501.2 599.5,500.9 601.0,500.5 602.5,500.1 604.0,499.6 605.5,499.1 607.0,498.6 608.5,498.1 610.0,497.5 611.5,497.0 613.0,496.3 614.5,495.7 616.0,495.1 617.5,494.4 619.0,493.7 620.5,493.0 622.0,492.2 623.5,491.5 625.0,490.7 626.5,489.9 628.0,489.1 629.5,488.3 631.0,487.4 632.5,486.6 634.0,485.7 635.5,484.9 637.0,484.0 638.5,483.1 640.0,482.2 641.5,481.2 643.0,480.3 644.5,479.4 646.0,478.4 647.5,477.4 649.0,476.3 650.5,475.2 652.0,474.1 653.5,472.9 655.0,471.7 656.5,470.5 658.0,469.2 659.5,467.9 661.0,466.7 662.5,465.3 664.0,464.0 665.5,462.7 667.0,461.3 668.5,460.0 670.0,458.6 671.5,457.3 673.0,455.9 674.5,454.5 676.0,453.2 677.5,451.8 679.0,450.5 680.5,449.2 682.0,447.8 683.5,446.5 685.0,445.1 686.5,443.7 688.0,442.3 689.5,441.0 691.0,439.6 692.5,438.1 694.0,436.7 695.5,435.3 697.0,433.9 698.5,432.5 700.0,431.0 701.5,429.6 703.0,428.2 704.5,426.7 706.0,425.3 707.5,423.9 709.0,422.5 710.5,421.0 712.0,419.6 713.5,418.2 715.0,416.8 716.5,415.4 718.0,414.0 719.5,412.7 721.0,411.3 722.5,409.9 724.0,408.5 725.5,407.1 727.0,405.7 728.5,404.3 730.0,403.0 731.5,401.6 733.0,400.2 734.5,398.8 736.0,397.4 737.5,396.0 739.0,394.6 740.5,393.2 742.0,391.9 743.5,390.5 745.0,389.2 746.5,387.9 748.0,386.5 749.5,385.2 751.0,383.9 752.5,382.7 754.0,381.4 755.5,380.2 757.0,379.0 758.5,377.8 760.0,376.6 761.5,375.5 763.0,374.3 764.5,373.2 766.0,372.1 767.5,371.1 769.0,370.0 770.5,369.0 772.0,368.0 773.5,367.0 775.0,366.0 776.5,365.1 778.0,364.2 779.5,363.3 781.0,362.4 782.5,361.6 784.0,360.7 785.5,359.9 787.0,359.1 788.5,358.2 790.0,357.4 791.5,356.7 793.0,355.9 794.5,355.1 796.0,354.4 797.5,353.7 799.0,353.0 800.5,352.3 802.0,351.6 803.5,350.9 805.0,350.2 806.5,349.5 808.0,348.8 809.5,348.1 811.0,347.4 812.5,346.7 814.0,346.1 815.5,345.4 817.0,344.8 818.5,344.1 820.0,343.5 821.5,342.9 823.0,342.3 824.5,341.8 826.0,341.2 827.5,340.7 829.0,340.2 830.5,339.7 832.0,339.3 833.5,338.8 835.0,338.4 836.5,338.0 838.0,337.5 839.5,337.1 841.0,336.7 842.5,336.3 844.0,335.9 845.5,335.5 847.0,335.1 848.5,334.8 850.0,334.4 851.5,334.0 853.0,333.7 854.5,333.4 856.0,333.0 857.5,332.7 859.0,332.4 860.5,332.1 862.0,331.8 863.5,331.5 865.0,331.2 866.5,330.9 868.0,330.6 869.5,330.3 871.0,330.1 872.5,329.8 874.0,329.5 875.5,329.2 877.0,329.0 878.5,328.7 880.0,328.4 881.5,328.2 883.0,327.9 884.5,327.7 886.0,327.4 887.5,327.2 889.0,327.0 890.5,326.7 892.0,326.5 893.5,326.2 895.0,326.0 896.5,325.7 898.0,325.5 899.5,325.3 901.0,325.0 902.5,324.8 904.0,324.6 905.5,324.4 907.0,324.3 908.5,324.1 910.0,324.0 911.5,323.9 913.0,323.8 914.5,323.7 916.0,323.6 917.5,323.5 919.0,323.4 920.5,323.3 922.0,323.2 923.5,323.2 925.0,323.1 926.5,323.0 928.0,322.9 929.5,322.9 931.0,322.8 932.5,322.8 934.0,322.7 935.5,322.7 937.0,322.6 938.5,322.6 940.0,322.6 941.5,322.6 943.0,322.6 944.5,322.6 946.0,322.5 947.5,322.5 949.0,322.5 950.5,322.5 952.0,322.5 953.5,322.5 955.0,322.5 956.5,322.5 958.0,322.5 959.5,322.5 961.0,322.5 962.5,322.5 964.0,322.5 965.5,322.5 967.0,322.5 968.5,322.5 970.0,322.5 971.5,322.5 973.0,322.5 974.5,322.6 976.0,322.6 977.5,322.6 979.0,322.6 980.5,322.7 982.0,322.7 983.0,322.7" fill="none" stroke="#808000" stroke-width="2.5" stroke-linejoin="round"/>
<polyline points="154.6,190.6 162.1,198.8 169.8,186.9 177.3,207.5 180.0,212.7 185.2,221.8 192.4,233.6 199.6,250.6 206.8,257.1 211.4,266.3 215.9,280.0 222.5,301.3 230.0,325.0 236.1,349.5 243.0,366.1 251.8,388.6 255.7,400.0 274.0,431.0 275.5,433.7 277.0,436.3 278.5,438.9 280.0,441.5 281.5,444.0 283.0,446.5 284.5,448.9 286.0,451.2 287.5,453.4 289.0,455.5 290.5,457.5 292.0,459.4 293.5,461.2 295.0,462.8 296.5,464.5 298.0,466.0 299.5,467.5 301.0,469.0 302.5,470.4 304.0,471.8 305.5,473.1 307.0,474.4 308.5,475.7 310.0,477.0 311.5,478.3 313.0,479.6 314.5,480.8 316.0,482.0 317.5,483.2 319.0,484.3 320.5,485.3 322.0,486.4 323.5,487.4 325.0,488.5 326.5,489.5 328.0,490.5 329.5,491.4 331.0,492.2 332.5,492.9 334.0,493.5 335.5,493.9 337.0,494.3 338.5,494.7 340.0,494.9 341.5,495.0 343.0,495.0 344.5,494.8 346.0,494.5 347.5,494.2 349.0,493.9 350.5,493.6 352.0,493.2 353.5,492.9 355.0,492.5 356.5,492.0 358.0,491.6 359.5,491.1 361.0,490.7 362.5,490.2 364.0,489.7 365.5,489.2 367.0,488.8 368.5,488.3 370.0,487.8 371.5,487.3 373.0,486.7 374.5,486.2 376.0,485.7 377.5,485.2 379.0,484.6 380.5,484.1 382.0,483.5 383.5,482.9 385.0,482.4 386.5,481.8 388.0,481.2 389.5,480.6 391.0,480.0 392.5,479.4 394.0,478.8 395.5,478.2 397.0,477.6 398.5,477.1 400.0,476.6 401.5,476.1 403.0,475.6 404.5,475.1 406.0,474.7 407.5,474.3 409.0,473.8 410.5,473.4 412.0,473.0 413.5,472.5 415.0,472.1 416.5,471.7 418.0,471.2 419.5,470.8 421.0,470.4 422.5,470.0 424.0,469.6 425.5,469.3 427.0,468.9 428.5,468.6 430.0,468.3 431.5,468.0 433.0,467.8 434.5,467.6 436.0,467.4 437.5,467.2 439.0,467.1 440.5,467.0 442.0,467.0 443.5,467.0 445.0,467.0 446.5,467.1 448.0,467.2 449.5,467.3 451.0,467.4 452.5,467.6 454.0,467.7 455.5,467.9 457.0,468.1 458.5,468.3 460.0,468.6 461.5,468.8 463.0,469.0 464.5,469.2 466.0,469.4 467.5,469.7 469.0,469.9 470.5,470.1 472.0,470.3 473.5,470.5 475.0,470.7 476.5,470.9 478.0,471.1 479.5,471.3 481.0,471.5 482.5,471.7 484.0,471.9 485.5,472.1 487.0,472.4 488.5,472.6 490.0,472.8 491.5,473.0 493.0,473.2 494.5,473.4 496.0,473.7 497.5,473.9 499.0,474.1 500.5,474.3 502.0,474.5 503.5,474.8 505.0,475.0 506.5,475.2 508.0,475.5 509.5,475.8 511.0,476.1 512.5,476.4 514.0,476.7 515.5,477.0 517.0,477.3 518.5,477.7 520.0,478.0 521.5,478.3 523.0,478.6 524.5,478.8 526.0,479.1 527.5,479.3 529.0,479.5 530.5,479.7 532.0,479.8 533.5,479.9 535.0,480.0 536.5,480.0 538.0,480.1 539.5,480.1 541.0,480.1 542.5,480.1 544.0,480.1 545.5,480.1 547.0,480.1 548.5,480.0 550.0,480.0 551.5,480.0 553.0,480.0 554.5,480.0 556.0,480.0 557.5,480.0 559.0,480.0 560.5,480.0 562.0,480.0 563.5,480.1 565.0,480.1 566.5,480.1 568.0,480.2 569.5,480.2 571.0,480.3 572.5,480.3 574.0,480.4 575.5,480.4 577.0,480.5 578.5,480.5 580.0,480.5 581.5,480.5 583.0,480.4 584.5,480.3 586.0,480.2 587.5,480.0 589.0,479.8 590.5,479.5 592.0,479.3 593.5,478.9 595.0,478.6 596.5,478.2 598.0,477.8 599.5,477.4 601.0,477.0 602.5,476.5 604.0,476.0 605.5,475.5 607.0,475.0 608.5,474.5 610.0,474.0 611.5,473.5 613.0,472.9 614.5,472.4 616.0,471.9 617.5,471.4 619.0,470.8 620.5,470.3 622.0,469.8 623.5,469.2 625.0,468.6 626.5,467.9 628.0,467.2 629.5,466.5 631.0,465.7 632.5,464.9 634.0,464.1 635.5,463.3 637.0,462.4 638.5,461.6 640.0,460.7 641.5,459.8 643.0,458.9 644.5,458.1 646.0,457.2 647.5,456.3 649.0,455.4 650.5,454.5 652.0,453.6 653.5,452.7 655.0,451.7 656.5,450.8 658.0,449.8 659.5,448.8 661.0,447.8 662.5,446.8 664.0,445.8 665.5,444.8 667.0,443.7 668.5,442.7 670.0,441.6 671.5,440.6 673.0,439.5 674.5,438.4 676.0,437.3 677.5,436.2 679.0,435.0 680.5,433.9 682.0,432.8 683.5,431.6 685.0,430.4 686.5,429.2 688.0,428.0 689.5,426.7 691.0,425.5 692.5,424.2 694.0,422.9 695.5,421.6 697.0,420.3 698.5,419.0 700.0,417.7 701.5,416.4 703.0,415.1 704.5,413.8 706.0,412.5 707.5,411.2 709.0,409.9 710.5,408.6 712.0,407.4 713.5,406.1 715.0,404.9 716.5,403.6 718.0,402.4 719.5,401.2 721.0,400.0 722.5,398.8 724.0,397.6 725.5,396.5 727.0,395.3 728.5,394.1 730.0,393.0 731.5,391.8 733.0,390.6 734.5,389.5 736.0,388.3 737.5,387.2 739.0,386.0 740.5,384.9 742.0,383.8 743.5,382.7 745.0,381.5 746.5,380.4 748.0,379.3 749.5,378.3 751.0,377.2 752.5,376.1 754.0,375.0 755.5,374.0 757.0,373.0 758.5,371.9 760.0,370.9 761.5,369.9 763.0,368.9 764.5,367.9 766.0,366.9 767.5,365.9 769.0,365.0 770.5,364.0 772.0,363.1 773.5,362.2 775.0,361.3 776.5,360.4 778.0,359.6 779.5,358.8 781.0,358.0 782.5,357.2 784.0,356.4 785.5,355.6 787.0,354.9 788.5,354.1 790.0,353.4 791.5,352.7 793.0,352.0 794.5,351.3 796.0,350.7 797.5,350.0 799.0,349.4 800.5,348.8 802.0,348.2 803.5,347.6 805.0,347.0 806.5,346.4 808.0,345.9 809.5,345.3 811.0,344.7 812.5,344.2 814.0,343.6 815.5,343.1 817.0,342.5 818.5,342.0 820.0,341.5 821.5,341.0 823.0,340.5 824.5,340.0 826.0,339.6 827.5,339.1 829.0,338.7 830.5,338.3 832.0,337.9 833.5,337.4 835.0,337.0 836.5,336.6 838.0,336.2 839.5,335.9 841.0,335.5 842.5,335.1 844.0,334.7 845.5,334.4 847.0,334.0 848.5,333.7 850.0,333.3 851.5,333.0 853.0,332.7 854.5,332.4 856.0,332.1 857.5,331.8 859.0,331.5 860.5,331.2 862.0,330.9 863.5,330.7 865.0,330.4 866.5,330.2 868.0,329.9 869.5,329.7 871.0,329.4 872.5,329.2 874.0,329.0 875.5,328.7 877.0,328.5 878.5,328.3 880.0,328.1 881.5,327.8 883.0,327.6 884.5,327.4 886.0,327.2 887.5,327.0 889.0,326.7 890.5,326.5 892.0,326.3 893.5,326.1 895.0,325.8 896.5,325.6 898.0,325.4 899.5,325.1 901.0,324.9 902.5,324.7 904.0,324.5 905.5,324.3 907.0,324.2 908.5,324.0 910.0,323.9 911.5,323.8 913.0,323.7 914.5,323.6 916.0,323.5 917.5,323.4 919.0,323.3 920.5,323.3 922.0,323.2 923.5,323.1 925.0,323.0 926.5,323.0 928.0,322.9 929.5,322.8 931.0,322.8 932.5,322.8 934.0,322.7 935.5,322.7 937.0,322.6 938.5,322.6 940.0,322.6 941.5,322.6 943.0,322.6 944.5,322.6 946.0,322.5 947.5,322.5 949.0,322.5 950.5,322.5 952.0,322.5 953.5,322.5 955.0,322.5 956.5,322.5 958.0,322.5 959.5,322.5 961.0,322.5 962.5,322.5 964.0,322.5 965.5,322.5 967.0,322.5 968.5,322.5 970.0,322.5 971.5,322.5 973.0,322.6 974.5,322.6 976.0,322.6 977.5,322.6 979.0,322.6 980.5,322.7 982.0,322.7 983.0,322.7" fill="none" stroke="#000080" stroke-width="2.5" stroke-linejoin="round"/>
<polyline points="155.0,236.9 161.9,271.9 169.8,273.1 177.3,275.6 183.8,271.9 192.3,275.0 199.9,282.5 207.5,289.4 212.5,305.0 215.4,312.8 222.5,327.0 228.3,344.6 235.2,358.3 243.0,376.9 250.0,390.0 254.7,400.0 262.5,411.3 275.0,431.3 281.3,440.0 282.8,440.7 284.3,441.5 285.8,442.6 287.3,443.8 288.8,445.1 290.3,446.5 291.8,448.0 293.3,449.8 294.8,451.8 296.3,454.0 297.8,456.2 299.3,458.5 300.8,460.5 302.3,462.3 303.8,463.8 305.3,465.0 306.8,466.1 308.3,467.0 309.8,467.9 311.3,468.8 312.8,469.6 314.3,470.3 315.8,471.0 317.3,471.7 318.8,472.4 320.3,473.2 321.8,473.8 323.3,474.5 324.8,475.0 326.3,475.4 327.8,475.6 329.3,475.7 330.8,475.7 332.3,475.6 333.8,475.5 335.3,475.6 336.8,476.0 338.3,476.5 339.8,477.1 341.3,477.4 342.8,477.5 344.3,477.2 345.8,476.7 347.3,476.1 348.8,475.3 350.3,474.5 351.8,473.6 353.3,472.8 354.8,472.0 356.3,471.3 357.8,470.7 359.3,470.1 360.8,469.5 362.3,468.9 363.8,468.3 365.3,467.7 366.8,467.1 368.3,466.5 369.8,465.9 371.3,465.3 372.8,464.7 374.3,464.1 375.8,463.4 377.3,462.8 378.8,462.1 380.3,461.5 381.8,460.7 383.3,460.0 384.8,459.2 386.3,458.5 387.8,457.7 389.3,456.9 390.8,456.1 392.3,455.4 393.8,454.7 395.3,454.0 396.8,453.3 398.3,452.7 399.8,452.2 401.3,451.7 402.8,451.2 404.3,450.8 405.8,450.4 407.3,450.1 408.8,449.8 410.3,449.4 411.8,449.2 413.3,448.9 414.8,448.6 416.3,448.3 417.8,448.1 419.3,447.9 420.8,447.6 422.3,447.4 423.8,447.2 425.3,447.0 426.8,446.7 428.3,446.5 429.8,446.2 431.3,445.9 432.8,445.7 434.3,445.4 435.8,445.1 437.3,444.9 438.8,444.6 440.3,444.4 441.8,444.2 443.3,444.1 444.8,443.9 446.3,443.8 447.8,443.8 449.3,443.8 450.8,443.8 452.3,443.9 453.8,444.0 455.3,444.1 456.8,444.3 458.3,444.5 459.8,444.6 461.3,444.8 462.8,445.0 464.3,445.3 465.8,445.5 467.3,445.7 468.8,445.9 470.3,446.1 471.8,446.2 473.3,446.4 474.8,446.5 476.3,446.7 477.8,446.8 479.3,447.0 480.8,447.1 482.3,447.3 483.8,447.4 485.3,447.6 486.8,447.7 488.3,447.8 489.8,448.0 491.3,448.1 492.8,448.3 494.3,448.5 495.8,448.6 497.3,448.8 498.8,448.9 500.3,449.1 501.8,449.3 503.3,449.5 504.8,449.7 506.3,449.9 507.8,450.1 509.3,450.3 510.8,450.5 512.3,450.7 513.8,451.0 515.3,451.1 516.8,451.3 518.3,451.5 519.8,451.7 521.3,451.9 522.8,452.0 524.3,452.2 525.8,452.3 527.3,452.5 528.8,452.6 530.3,452.8 531.8,452.9 533.3,453.1 534.8,453.2 536.3,453.3 537.8,453.5 539.3,453.6 540.8,453.7 542.3,453.8 543.8,453.9 545.3,454.1 546.8,454.2 548.3,454.3 549.8,454.4 551.3,454.5 552.8,454.6 554.3,454.7 555.8,454.8 557.3,454.9 558.8,454.9 560.3,455.0 561.8,455.1 563.3,455.1 564.8,455.2 566.3,455.2 567.8,455.2 569.3,455.2 570.8,455.2 572.3,455.2 573.8,455.2 575.3,455.1 576.8,455.1 578.3,455.1 579.8,455.0 581.3,454.9 582.8,454.8 584.3,454.7 585.8,454.6 587.3,454.4 588.8,454.2 590.3,454.0 591.8,453.7 593.3,453.5 594.8,453.2 596.3,452.9 597.8,452.6 599.3,452.3 600.8,452.0 602.3,451.7 603.8,451.3 605.3,451.0 606.8,450.7 608.3,450.4 609.8,450.0 611.3,449.7 612.8,449.4 614.3,449.0 615.8,448.6 617.3,448.2 618.8,447.7 620.3,447.3 621.8,446.8 623.3,446.3 624.8,445.8 626.3,445.3 627.8,444.7 629.3,444.2 630.8,443.6 632.3,443.0 633.8,442.5 635.3,441.9 636.8,441.3 638.3,440.7 639.8,440.1 641.3,439.5 642.8,438.8 644.3,438.2 645.8,437.5 647.3,436.8 648.8,436.0 650.3,435.3 651.8,434.5 653.3,433.7 654.8,432.9 656.3,432.1 657.8,431.3 659.3,430.4 660.8,429.5 662.3,428.7 663.8,427.8 665.3,426.9 666.8,426.0 668.3,425.1 669.8,424.2 671.3,423.2 672.8,422.3 674.3,421.4 675.8,420.4 677.3,419.4 678.8,418.3 680.3,417.3 681.8,416.2 683.3,415.1 684.8,414.0 686.3,412.9 687.8,411.8 689.3,410.7 690.8,409.6 692.3,408.5 693.8,407.4 695.3,406.3 696.8,405.2 698.3,404.2 699.8,403.1 701.3,402.1 702.8,401.1 704.3,400.1 705.8,399.1 707.3,398.1 708.8,397.1 710.3,396.1 711.8,395.2 713.3,394.2 714.8,393.2 716.3,392.2 717.8,391.2 719.3,390.3 720.8,389.3 722.3,388.3 723.8,387.3 725.3,386.3 726.8,385.3 728.3,384.3 729.8,383.3 731.3,382.3 732.8,381.3 734.3,380.3 735.8,379.3 737.3,378.3 738.8,377.3 740.3,376.3 741.8,375.3 743.3,374.3 744.8,373.3 746.3,372.3 747.8,371.3 749.3,370.4 750.8,369.4 752.3,368.4 753.8,367.5 755.3,366.5 756.8,365.6 758.3,364.6 759.8,363.7 761.3,362.8 762.8,361.9 764.3,360.9 765.8,359.9 767.3,359.0 768.8,358.1 770.3,357.2 771.8,356.3 773.3,355.4 774.8,354.6 776.3,353.8 777.8,353.1 779.3,352.5 780.8,351.9 782.3,351.4 783.8,350.8 785.3,350.4 786.8,349.9 788.3,349.4 789.8,349.0 791.3,348.6 792.8,348.2 794.3,347.8 795.8,347.3 797.3,346.9 798.8,346.5 800.3,346.0 801.8,345.5 803.3,345.1 804.8,344.6 806.3,344.1 807.8,343.6 809.3,343.1 810.8,342.6 812.3,342.1 813.8,341.6 815.3,341.1 816.8,340.6 818.3,340.1 819.8,339.6 821.3,339.2 822.8,338.7 824.3,338.3 825.8,337.8 827.3,337.4 828.8,337.0 830.3,336.6 831.8,336.3 833.3,335.9 834.8,335.5 836.3,335.2 837.8,334.8 839.3,334.5 840.8,334.1 842.3,333.8 843.8,333.5 845.3,333.2 846.8,332.9 848.3,332.6 849.8,332.3 851.3,332.0 852.8,331.7 854.3,331.5 855.8,331.2 857.3,330.9 858.8,330.7 860.3,330.5 861.8,330.2 863.3,330.0 864.8,329.8 866.3,329.5 867.8,329.3 869.3,329.1 870.8,328.9 872.3,328.7 873.8,328.5 875.3,328.3 876.8,328.0 878.3,327.8 879.8,327.6 881.3,327.4 882.8,327.2 884.3,327.0 885.8,326.9 887.3,326.7 888.8,326.5 890.3,326.3 891.8,326.1 893.3,325.8 894.8,325.6 896.3,325.4 897.8,325.2 899.3,325.0 900.8,324.8 902.3,324.6 903.8,324.4 905.3,324.2 906.8,324.1 908.3,323.9 909.8,323.8 911.3,323.7 912.8,323.6 914.3,323.5 915.8,323.4 917.3,323.4 918.8,323.3 920.3,323.2 921.8,323.1 923.3,323.1 924.8,323.0 926.3,322.9 927.8,322.9 929.3,322.8 930.8,322.8 932.3,322.7 933.8,322.7 935.3,322.7 936.8,322.6 938.3,322.6 939.8,322.6 941.3,322.6 942.8,322.6 944.3,322.6 945.8,322.6 947.3,322.5 948.8,322.5 950.3,322.5 951.8,322.5 953.3,322.5 954.8,322.5 956.3,322.5 957.8,322.5 959.3,322.5 960.8,322.5 962.3,322.5 963.8,322.5 965.3,322.5 966.8,322.5 968.3,322.5 969.8,322.5 971.3,322.6 972.8,322.6 974.3,322.6 975.8,322.6 977.3,322.6 978.8,322.6 980.3,322.7 981.8,322.7 983.0,322.7" fill="none" stroke="#800000" stroke-width="2.5" stroke-linejoin="round"/>
<polyline points="155.0,307.5 162.1,288.0 169.4,255.0 177.3,232.3 183.8,272.5 192.5,286.3 200.0,302.5 207.5,310.0 212.5,323.0 217.5,340.0 222.5,360.0 229.3,376.9 237.1,389.6 244.9,400.0 252.5,410.0 262.5,422.5 275.0,433.8 276.5,435.1 278.0,436.4 279.5,437.6 281.0,438.8 282.5,439.9 284.0,441.0 285.5,441.9 287.0,442.8 288.5,443.4 290.0,444.0 291.5,444.4 293.0,444.7 294.5,445.1 296.0,445.6 297.5,446.3 299.0,447.1 300.5,448.1 302.0,449.2 303.5,450.3 305.0,451.4 306.5,452.4 308.0,453.3 309.5,454.2 311.0,455.0 312.5,455.8 314.0,456.5 315.5,457.2 317.0,457.9 318.5,458.4 320.0,458.8 321.5,459.1 323.0,459.5 324.5,459.7 326.0,459.8 327.5,459.8 329.0,459.6 330.5,459.4 332.0,459.2 333.5,458.9 335.0,458.6 336.5,458.3 338.0,458.0 339.5,457.7 341.0,457.5 342.5,457.2 344.0,457.0 345.5,456.7 347.0,456.3 348.5,456.0 350.0,455.6 351.5,455.1 353.0,454.5 354.5,453.9 356.0,453.2 357.5,452.4 359.0,451.7 360.5,450.9 362.0,450.2 363.5,449.6 365.0,448.9 366.5,448.2 368.0,447.5 369.5,446.9 371.0,446.2 372.5,445.5 374.0,444.8 375.5,444.2 377.0,443.5 378.5,442.9 380.0,442.2 381.5,441.6 383.0,441.0 384.5,440.3 386.0,439.7 387.5,439.0 389.0,438.4 390.5,437.8 392.0,437.2 393.5,436.6 395.0,436.0 396.5,435.4 398.0,434.8 399.5,434.2 401.0,433.6 402.5,433.0 404.0,432.4 405.5,431.8 407.0,431.1 408.5,430.5 410.0,430.0 411.5,429.4 413.0,428.8 414.5,428.3 416.0,427.8 417.5,427.4 419.0,427.0 420.5,426.7 422.0,426.4 423.5,426.1 425.0,425.9 426.5,425.7 428.0,425.5 429.5,425.2 431.0,425.0 432.5,424.8 434.0,424.6 435.5,424.5 437.0,424.3 438.5,424.1 440.0,424.0 441.5,423.8 443.0,423.7 444.5,423.6 446.0,423.5 447.5,423.4 449.0,423.4 450.5,423.3 452.0,423.3 453.5,423.3 455.0,423.3 456.5,423.3 458.0,423.3 459.5,423.4 461.0,423.4 462.5,423.4 464.0,423.5 465.5,423.5 467.0,423.6 468.5,423.6 470.0,423.7 471.5,423.7 473.0,423.8 474.5,423.8 476.0,423.9 477.5,424.0 479.0,424.1 480.5,424.2 482.0,424.3 483.5,424.4 485.0,424.5 486.5,424.6 488.0,424.7 489.5,424.9 491.0,425.0 492.5,425.2 494.0,425.3 495.5,425.5 497.0,425.6 498.5,425.8 500.0,425.9 501.5,426.1 503.0,426.3 504.5,426.4 506.0,426.6 507.5,426.7 509.0,426.9 510.5,427.1 512.0,427.2 513.5,427.4 515.0,427.5 516.5,427.7 518.0,427.9 519.5,428.1 521.0,428.2 522.5,428.4 524.0,428.6 525.5,428.7 527.0,428.9 528.5,429.0 530.0,429.2 531.5,429.3 533.0,429.4 534.5,429.5 536.0,429.5 537.5,429.6 539.0,429.7 540.5,429.7 542.0,429.8 543.5,429.8 545.0,429.9 546.5,429.9 548.0,429.9 549.5,429.9 551.0,430.0 552.5,430.0 554.0,430.0 555.5,430.0 557.0,430.0 558.5,430.0 560.0,430.0 561.5,430.0 563.0,430.0 564.5,430.0 566.0,429.9 567.5,429.9 569.0,429.9 570.5,429.8 572.0,429.8 573.5,429.7 575.0,429.7 576.5,429.6 578.0,429.6 579.5,429.5 581.0,429.5 582.5,429.4 584.0,429.3 585.5,429.3 587.0,429.2 588.5,429.1 590.0,429.0 591.5,428.9 593.0,428.7 594.5,428.6 596.0,428.4 597.5,428.2 599.0,428.0 600.5,427.8 602.0,427.6 603.5,427.4 605.0,427.1 606.5,426.9 608.0,426.6 609.5,426.4 611.0,426.1 612.5,425.8 614.0,425.5 615.5,425.1 617.0,424.7 618.5,424.3 620.0,423.8 621.5,423.3 623.0,422.8 624.5,422.3 626.0,421.8 627.5,421.3 629.0,420.8 630.5,420.3 632.0,419.8 633.5,419.3 635.0,418.8 636.5,418.3 638.0,417.8 639.5,417.4 641.0,416.9 642.5,416.4 644.0,415.9 645.5,415.4 647.0,414.9 648.5,414.3 650.0,413.8 651.5,413.3 653.0,412.7 654.5,412.2 656.0,411.6 657.5,411.0 659.0,410.4 660.5,409.8 662.0,409.1 663.5,408.5 665.0,407.8 666.5,407.1 668.0,406.3 669.5,405.6 671.0,404.8 672.5,404.1 674.0,403.3 675.5,402.5 677.0,401.7 678.5,400.9 680.0,400.1 681.5,399.3 683.0,398.5 684.5,397.8 686.0,397.0 687.5,396.2 689.0,395.4 690.5,394.7 692.0,393.9 693.5,393.1 695.0,392.3 696.5,391.5 698.0,390.7 699.5,389.9 701.0,389.2 702.5,388.4 704.0,387.6 705.5,386.8 707.0,386.0 708.5,385.2 710.0,384.4 711.5,383.6 713.0,382.8 714.5,382.0 716.0,381.2 717.5,380.4 719.0,379.5 720.5,378.7 722.0,377.9 723.5,377.1 725.0,376.2 726.5,375.4 728.0,374.5 729.5,373.7 731.0,372.8 732.5,372.0 734.0,371.1 735.5,370.2 737.0,369.4 738.5,368.5 740.0,367.6 741.5,366.8 743.0,365.9 744.5,365.1 746.0,364.2 747.5,363.4 749.0,362.5 750.5,361.7 752.0,360.9 753.5,360.1 755.0,359.3 756.5,358.5 758.0,357.8 759.5,357.0 761.0,356.3 762.5,355.6 764.0,354.9 765.5,354.2 767.0,353.5 768.5,352.8 770.0,352.1 771.5,351.5 773.0,350.9 774.5,350.3 776.0,349.7 777.5,349.1 779.0,348.6 780.5,348.1 782.0,347.7 783.5,347.2 785.0,346.8 786.5,346.4 788.0,346.0 789.5,345.5 791.0,345.2 792.5,344.8 794.0,344.4 795.5,344.0 797.0,343.6 798.5,343.2 800.0,342.8 801.5,342.4 803.0,342.0 804.5,341.6 806.0,341.2 807.5,340.7 809.0,340.3 810.5,339.9 812.0,339.5 813.5,339.1 815.0,338.6 816.5,338.2 818.0,337.8 819.5,337.4 821.0,337.0 822.5,336.7 824.0,336.3 825.5,335.9 827.0,335.6 828.5,335.2 830.0,334.9 831.5,334.6 833.0,334.3 834.5,334.0 836.0,333.7 837.5,333.4 839.0,333.1 840.5,332.8 842.0,332.5 843.5,332.2 845.0,332.0 846.5,331.7 848.0,331.4 849.5,331.2 851.0,330.9 852.5,330.7 854.0,330.5 855.5,330.2 857.0,330.0 858.5,329.8 860.0,329.6 861.5,329.4 863.0,329.2 864.5,329.0 866.0,328.8 867.5,328.6 869.0,328.4 870.5,328.3 872.0,328.1 873.5,327.9 875.0,327.7 876.5,327.6 878.0,327.4 879.5,327.2 881.0,327.0 882.5,326.9 884.0,326.7 885.5,326.5 887.0,326.3 888.5,326.2 890.0,326.0 891.5,325.8 893.0,325.6 894.5,325.4 896.0,325.2 897.5,325.0 899.0,324.8 900.5,324.6 902.0,324.5 903.5,324.3 905.0,324.1 906.5,324.0 908.0,323.8 909.5,323.7 911.0,323.6 912.5,323.6 914.0,323.5 915.5,323.4 917.0,323.3 918.5,323.2 920.0,323.2 921.5,323.1 923.0,323.0 924.5,323.0 926.0,322.9 927.5,322.9 929.0,322.8 930.5,322.8 932.0,322.7 933.5,322.7 935.0,322.7 936.5,322.6 938.0,322.6 939.5,322.6 941.0,322.6 942.5,322.6 944.0,322.6 945.5,322.6 947.0,322.5 948.5,322.5 950.0,322.5 951.5,322.5 953.0,322.5 954.5,322.5 956.0,322.5 957.5,322.5 959.0,322.5 960.5,322.5 962.0,322.5 963.5,322.5 965.0,322.5 966.5,322.5 968.0,322.5 969.5,322.5 971.0,322.6 972.5,322.6 974.0,322.6 975.5,322.6 977.0,322.6 978.5,322.6 980.0,322.7 981.5,322.7 983.0,322.7" fill="none" stroke="#ff0080" stroke-width="2.5" stroke-linejoin="round"/>
<polyline points="154.4,302.5 161.9,283.1 169.4,277.8 176.9,281.0 183.2,305.0 191.0,334.3 199.8,345.0 205.8,342.4 210.0,350.0 214.6,363.2 224.4,381.8 234.2,400.0 236.3,404.0 243.8,407.5 251.3,418.1 261.3,423.8 273.8,431.3 275.3,432.6 276.8,434.0 278.3,435.4 279.8,436.7 281.3,437.9 282.8,439.1 284.3,440.2 285.8,441.1 287.3,441.8 288.8,442.3 290.3,442.5 291.8,442.7 293.3,442.9 294.8,443.0 296.3,443.2 297.8,443.3 299.3,443.4 300.8,443.5 302.3,443.6 303.8,443.7 305.3,443.8 306.8,443.9 308.3,444.0 309.8,444.1 311.3,444.3 312.8,444.4 314.3,444.4 315.8,444.5 317.3,444.5 318.8,444.5 320.3,444.5 321.8,444.3 323.3,444.0 324.8,443.6 326.3,443.2 327.8,442.6 329.3,442.0 330.8,441.3 332.3,440.6 333.8,439.9 335.3,439.3 336.8,438.6 338.3,438.1 339.8,437.6 341.3,437.1 342.8,436.7 344.3,436.4 345.8,436.0 347.3,435.7 348.8,435.4 350.3,435.1 351.8,434.7 353.3,434.4 354.8,434.0 356.3,433.7 357.8,433.2 359.3,432.7 360.8,432.2 362.3,431.6 363.8,430.9 365.3,430.2 366.8,429.4 368.3,428.6 369.8,427.8 371.3,427.0 372.8,426.1 374.3,425.3 375.8,424.5 377.3,423.8 378.8,423.0 380.3,422.4 381.8,421.7 383.3,421.2 384.8,420.6 386.3,420.0 387.8,419.5 389.3,419.0 390.8,418.5 392.3,418.0 393.8,417.4 395.3,416.9 396.8,416.3 398.3,415.7 399.8,415.1 401.3,414.4 402.8,413.6 404.3,412.8 405.8,411.9 407.3,411.2 408.8,410.5 410.3,409.9 411.8,409.4 413.3,408.9 414.8,408.4 416.3,407.9 417.8,407.4 419.3,407.0 420.8,406.6 422.3,406.2 423.8,405.8 425.3,405.4 426.8,405.1 428.3,404.8 429.8,404.5 431.3,404.2 432.8,404.0 434.3,403.9 435.8,403.7 437.3,403.6 438.8,403.5 440.3,403.3 441.8,403.2 443.3,403.0 444.8,402.9 446.3,402.8 447.8,402.7 449.3,402.5 450.8,402.4 452.3,402.3 453.8,402.2 455.3,402.1 456.8,402.0 458.3,402.0 459.8,401.9 461.3,401.9 462.8,401.8 464.3,401.8 465.8,401.8 467.3,401.8 468.8,401.8 470.3,401.9 471.8,402.0 473.3,402.0 474.8,402.1 476.3,402.3 477.8,402.4 479.3,402.5 480.8,402.7 482.3,402.8 483.8,403.0 485.3,403.1 486.8,403.3 488.3,403.4 489.8,403.6 491.3,403.8 492.8,403.9 494.3,404.1 495.8,404.2 497.3,404.4 498.8,404.5 500.3,404.7 501.8,404.8 503.3,404.9 504.8,405.0 506.3,405.1 507.8,405.2 509.3,405.3 510.8,405.3 512.3,405.4 513.8,405.5 515.3,405.6 516.8,405.7 518.3,405.7 519.8,405.8 521.3,405.9 522.8,406.0 524.3,406.1 525.8,406.1 527.3,406.2 528.8,406.3 530.3,406.3 531.8,406.4 533.3,406.5 534.8,406.6 536.3,406.6 537.8,406.7 539.3,406.7 540.8,406.8 542.3,406.9 543.8,406.9 545.3,407.0 546.8,407.0 548.3,407.1 549.8,407.2 551.3,407.2 552.8,407.3 554.3,407.3 555.8,407.4 557.3,407.4 558.8,407.5 560.3,407.5 561.8,407.6 563.3,407.6 564.8,407.6 566.3,407.6 567.8,407.7 569.3,407.7 570.8,407.7 572.3,407.7 573.8,407.7 575.3,407.7 576.8,407.7 578.3,407.7 579.8,407.7 581.3,407.6 582.8,407.6 584.3,407.6 585.8,407.6 587.3,407.6 588.8,407.5 590.3,407.5 591.8,407.4 593.3,407.4 594.8,407.3 596.3,407.1 597.8,407.0 599.3,406.8 600.8,406.6 602.3,406.4 603.8,406.2 605.3,405.9 606.8,405.7 608.3,405.4 609.8,405.1 611.3,404.8 612.8,404.5 614.3,404.2 615.8,403.9 617.3,403.6 618.8,403.3 620.3,403.0 621.8,402.6 623.3,402.3 624.8,402.0 626.3,401.6 627.8,401.2 629.3,400.8 630.8,400.4 632.3,400.0 633.8,399.5 635.3,399.0 636.8,398.5 638.3,398.0 639.8,397.5 641.3,397.0 642.8,396.5 644.3,395.9 645.8,395.4 647.3,394.8 648.8,394.2 650.3,393.7 651.8,393.1 653.3,392.5 654.8,392.0 656.3,391.4 657.8,390.8 659.3,390.3 660.8,389.7 662.3,389.1 663.8,388.5 665.3,388.0 666.8,387.4 668.3,386.8 669.8,386.1 671.3,385.5 672.8,384.9 674.3,384.3 675.8,383.6 677.3,383.0 678.8,382.4 680.3,381.7 681.8,381.1 683.3,380.4 684.8,379.8 686.3,379.1 687.8,378.5 689.3,377.8 690.8,377.1 692.3,376.5 693.8,375.8 695.3,375.2 696.8,374.5 698.3,373.9 699.8,373.2 701.3,372.5 702.8,371.9 704.3,371.2 705.8,370.5 707.3,369.8 708.8,369.1 710.3,368.3 711.8,367.6 713.3,366.9 714.8,366.2 716.3,365.5 717.8,364.8 719.3,364.1 720.8,363.4 722.3,362.7 723.8,362.0 725.3,361.4 726.8,360.7 728.3,360.1 729.8,359.5 731.3,358.9 732.8,358.3 734.3,357.8 735.8,357.2 737.3,356.7 738.8,356.2 740.3,355.7 741.8,355.3 743.3,354.8 744.8,354.4 746.3,353.9 747.8,353.5 749.3,353.1 750.8,352.6 752.3,352.2 753.8,351.8 755.3,351.4 756.8,350.9 758.3,350.5 759.8,350.1 761.3,349.6 762.8,349.1 764.3,348.6 765.8,348.2 767.3,347.7 768.8,347.2 770.3,346.7 771.8,346.2 773.3,345.8 774.8,345.3 776.3,344.9 777.8,344.5 779.3,344.1 780.8,343.7 782.3,343.4 783.8,343.1 785.3,342.8 786.8,342.5 788.3,342.3 789.8,342.0 791.3,341.8 792.8,341.5 794.3,341.3 795.8,341.0 797.3,340.7 798.8,340.4 800.3,340.1 801.8,339.8 803.3,339.5 804.8,339.1 806.3,338.8 807.8,338.4 809.3,338.1 810.8,337.7 812.3,337.3 813.8,337.0 815.3,336.6 816.8,336.2 818.3,335.9 819.8,335.5 821.3,335.2 822.8,334.8 824.3,334.5 825.8,334.1 827.3,333.8 828.8,333.5 830.3,333.2 831.8,333.0 833.3,332.7 834.8,332.4 836.3,332.1 837.8,331.9 839.3,331.6 840.8,331.4 842.3,331.1 843.8,330.9 845.3,330.6 846.8,330.4 848.3,330.2 849.8,329.9 851.3,329.7 852.8,329.5 854.3,329.3 855.8,329.1 857.3,328.9 858.8,328.7 860.3,328.6 861.8,328.4 863.3,328.2 864.8,328.1 866.3,327.9 867.8,327.8 869.3,327.6 870.8,327.5 872.3,327.4 873.8,327.2 875.3,327.1 876.8,326.9 878.3,326.8 879.8,326.7 881.3,326.5 882.8,326.4 884.3,326.3 885.8,326.1 887.3,326.0 888.8,325.8 890.3,325.7 891.8,325.5 893.3,325.3 894.8,325.2 896.3,325.0 897.8,324.8 899.3,324.6 900.8,324.4 902.3,324.3 903.8,324.1 905.3,324.0 906.8,323.8 908.3,323.7 909.8,323.6 911.3,323.5 912.8,323.4 914.3,323.4 915.8,323.3 917.3,323.2 918.8,323.2 920.3,323.1 921.8,323.0 923.3,323.0 924.8,322.9 926.3,322.9 927.8,322.8 929.3,322.8 930.8,322.7 932.3,322.7 933.8,322.7 935.3,322.7 936.8,322.6 938.3,322.6 939.8,322.6 941.3,322.6 942.8,322.6 944.3,322.6 945.8,322.6 947.3,322.6 948.8,322.5 950.3,322.5 951.8,322.5 953.3,322.5 954.8,322.5 956.3,322.5 957.8,322.5 959.3,322.5 960.8,322.5 962.3,322.5 963.8,322.5 965.3,322.5 966.8,322.5 968.3,322.6 969.8,322.6 971.3,322.6 972.8,322.6 974.3,322.6 975.8,322.6 977.3,322.6 978.8,322.6 980.3,322.7 981.8,322.7 983.0,322.7" fill="none" stroke="#008000" stroke-width="2.5" stroke-linejoin="round"/>
<polyline points="154.4,329.9 161.7,331.9 169.5,339.2 176.9,325.0 184.8,317.0 192.5,308.9 200.8,326.5 202.9,330.0 208.8,342.7 214.6,360.3 222.5,370.0 229.3,373.9 236.1,389.6 241.0,400.0 252.5,412.5 260.0,415.0 275.0,432.5 276.5,432.6 278.0,432.7 279.5,432.8 281.0,432.9 282.5,432.9 284.0,433.0 285.5,433.0 287.0,433.1 288.5,433.1 290.0,433.1 291.5,433.1 293.0,433.0 294.5,432.9 296.0,432.7 297.5,432.6 299.0,432.4 300.5,432.2 302.0,432.1 303.5,432.0 305.0,431.9 306.5,432.1 308.0,432.6 309.5,433.1 311.0,433.6 312.5,433.8 314.0,433.5 315.5,432.8 317.0,431.9 318.5,430.9 320.0,429.9 321.5,429.1 323.0,428.7 324.5,428.4 326.0,428.3 327.5,428.2 329.0,428.1 330.5,428.1 332.0,428.0 333.5,427.8 335.0,427.5 336.5,427.1 338.0,426.7 339.5,426.3 341.0,425.8 342.5,425.3 344.0,424.8 345.5,424.3 347.0,423.7 348.5,423.1 350.0,422.5 351.5,421.9 353.0,421.2 354.5,420.4 356.0,419.7 357.5,418.9 359.0,418.1 360.5,417.3 362.0,416.5 363.5,415.8 365.0,415.0 366.5,414.2 368.0,413.5 369.5,412.7 371.0,412.0 372.5,411.2 374.0,410.5 375.5,409.7 377.0,409.0 378.5,408.2 380.0,407.4 381.5,406.6 383.0,405.7 384.5,404.9 386.0,404.1 387.5,403.3 389.0,402.5 390.5,401.7 392.0,400.9 393.5,400.1 395.0,399.4 396.5,398.7 398.0,398.0 399.5,397.4 401.0,396.8 402.5,396.3 404.0,395.8 405.5,395.3 407.0,394.8 408.5,394.3 410.0,393.8 411.5,393.3 413.0,392.9 414.5,392.4 416.0,392.0 417.5,391.5 419.0,391.1 420.5,390.7 422.0,390.3 423.5,389.9 425.0,389.6 426.5,389.2 428.0,388.9 429.5,388.6 431.0,388.3 432.5,388.0 434.0,387.8 435.5,387.6 437.0,387.4 438.5,387.3 440.0,387.1 441.5,387.0 443.0,387.0 444.5,386.9 446.0,386.9 447.5,386.8 449.0,386.7 450.5,386.7 452.0,386.6 453.5,386.5 455.0,386.5 456.5,386.4 458.0,386.4 459.5,386.3 461.0,386.3 462.5,386.3 464.0,386.3 465.5,386.2 467.0,386.2 468.5,386.2 470.0,386.3 471.5,386.3 473.0,386.3 474.5,386.4 476.0,386.4 477.5,386.4 479.0,386.5 480.5,386.5 482.0,386.6 483.5,386.6 485.0,386.7 486.5,386.7 488.0,386.7 489.5,386.8 491.0,386.8 492.5,386.9 494.0,386.9 495.5,387.0 497.0,387.0 498.5,387.1 500.0,387.1 501.5,387.2 503.0,387.3 504.5,387.3 506.0,387.4 507.5,387.4 509.0,387.5 510.5,387.5 512.0,387.6 513.5,387.6 515.0,387.7 516.5,387.7 518.0,387.8 519.5,387.9 521.0,387.9 522.5,388.0 524.0,388.1 525.5,388.1 527.0,388.2 528.5,388.3 530.0,388.3 531.5,388.4 533.0,388.5 534.5,388.5 536.0,388.6 537.5,388.7 539.0,388.7 540.5,388.8 542.0,388.8 543.5,388.9 545.0,389.0 546.5,389.0 548.0,389.1 549.5,389.1 551.0,389.2 552.5,389.3 554.0,389.3 555.5,389.4 557.0,389.4 558.5,389.5 560.0,389.5 561.5,389.5 563.0,389.6 564.5,389.6 566.0,389.6 567.5,389.6 569.0,389.6 570.5,389.6 572.0,389.6 573.5,389.6 575.0,389.5 576.5,389.5 578.0,389.5 579.5,389.4 581.0,389.4 582.5,389.4 584.0,389.3 585.5,389.3 587.0,389.2 588.5,389.1 590.0,389.1 591.5,389.0 593.0,389.0 594.5,388.9 596.0,388.9 597.5,388.8 599.0,388.7 600.5,388.7 602.0,388.6 603.5,388.4 605.0,388.3 606.5,388.2 608.0,388.0 609.5,387.9 611.0,387.7 612.5,387.5 614.0,387.3 615.5,387.1 617.0,386.9 618.5,386.6 620.0,386.4 621.5,386.2 623.0,385.9 624.5,385.7 626.0,385.4 627.5,385.2 629.0,384.9 630.5,384.6 632.0,384.3 633.5,384.1 635.0,383.8 636.5,383.5 638.0,383.2 639.5,382.9 641.0,382.6 642.5,382.2 644.0,381.9 645.5,381.5 647.0,381.1 648.5,380.7 650.0,380.3 651.5,379.9 653.0,379.5 654.5,379.1 656.0,378.6 657.5,378.2 659.0,377.8 660.5,377.3 662.0,376.9 663.5,376.4 665.0,376.0 666.5,375.5 668.0,375.1 669.5,374.7 671.0,374.2 672.5,373.8 674.0,373.4 675.5,372.9 677.0,372.5 678.5,372.1 680.0,371.6 681.5,371.2 683.0,370.7 684.5,370.3 686.0,369.8 687.5,369.4 689.0,368.9 690.5,368.5 692.0,368.0 693.5,367.6 695.0,367.1 696.5,366.6 698.0,366.2 699.5,365.7 701.0,365.2 702.5,364.8 704.0,364.3 705.5,363.8 707.0,363.4 708.5,362.9 710.0,362.4 711.5,362.0 713.0,361.5 714.5,361.0 716.0,360.6 717.5,360.1 719.0,359.6 720.5,359.1 722.0,358.6 723.5,358.2 725.0,357.7 726.5,357.2 728.0,356.7 729.5,356.2 731.0,355.7 732.5,355.2 734.0,354.7 735.5,354.2 737.0,353.7 738.5,353.2 740.0,352.7 741.5,352.2 743.0,351.7 744.5,351.2 746.0,350.6 747.5,350.1 749.0,349.5 750.5,348.8 752.0,348.2 753.5,347.6 755.0,347.0 756.5,346.4 758.0,345.9 759.5,345.4 761.0,345.0 762.5,344.6 764.0,344.2 765.5,343.9 767.0,343.5 768.5,343.2 770.0,342.9 771.5,342.6 773.0,342.3 774.5,342.0 776.0,341.7 777.5,341.4 779.0,341.2 780.5,340.9 782.0,340.7 783.5,340.5 785.0,340.2 786.5,340.0 788.0,339.8 789.5,339.6 791.0,339.4 792.5,339.2 794.0,339.0 795.5,338.8 797.0,338.6 798.5,338.4 800.0,338.1 801.5,337.8 803.0,337.6 804.5,337.3 806.0,337.0 807.5,336.7 809.0,336.3 810.5,336.0 812.0,335.7 813.5,335.4 815.0,335.1 816.5,334.7 818.0,334.4 819.5,334.1 821.0,333.8 822.5,333.5 824.0,333.2 825.5,332.9 827.0,332.6 828.5,332.4 830.0,332.1 831.5,331.9 833.0,331.6 834.5,331.4 836.0,331.1 837.5,330.9 839.0,330.7 840.5,330.5 842.0,330.2 843.5,330.0 845.0,329.8 846.5,329.6 848.0,329.4 849.5,329.2 851.0,329.0 852.5,328.8 854.0,328.7 855.5,328.5 857.0,328.3 858.5,328.2 860.0,328.0 861.5,327.9 863.0,327.7 864.5,327.6 866.0,327.4 867.5,327.3 869.0,327.2 870.5,327.0 872.0,326.9 873.5,326.8 875.0,326.7 876.5,326.5 878.0,326.4 879.5,326.3 881.0,326.2 882.5,326.0 884.0,325.9 885.5,325.8 887.0,325.7 888.5,325.5 890.0,325.4 891.5,325.3 893.0,325.1 894.5,324.9 896.0,324.8 897.5,324.6 899.0,324.5 900.5,324.3 902.0,324.1 903.5,324.0 905.0,323.9 906.5,323.7 908.0,323.6 909.5,323.5 911.0,323.4 912.5,323.4 914.0,323.3 915.5,323.2 917.0,323.2 918.5,323.1 920.0,323.1 921.5,323.0 923.0,323.0 924.5,322.9 926.0,322.9 927.5,322.8 929.0,322.8 930.5,322.7 932.0,322.7 933.5,322.7 935.0,322.7 936.5,322.6 938.0,322.6 939.5,322.6 941.0,322.6 942.5,322.6 944.0,322.6 945.5,322.6 947.0,322.6 948.5,322.6 950.0,322.5 951.5,322.5 953.0,322.5 954.5,322.5 956.0,322.5 957.5,322.5 959.0,322.5 960.5,322.5 962.0,322.5 963.5,322.5 965.0,322.5 966.5,322.6 968.0,322.6 969.5,322.6 971.0,322.6 972.5,322.6 974.0,322.6 975.5,322.6 977.0,322.6 978.5,322.6 980.0,322.7 981.5,322.7 983.0,322.7" fill="none" stroke="#000080" stroke-width="2.5" stroke-linejoin="round"/>
<polyline points="156.3,322.1 161.7,327.0 169.5,330.4 176.4,338.7 184.2,335.3 192.0,335.8 200.8,341.1 207.8,344.6 214.6,348.8 222.5,346.6 231.3,350.5 241.0,356.4 251.8,367.1 258.6,370.0 268.4,374.9 281.1,383.2 282.6,383.7 284.1,384.2 285.6,384.7 287.1,385.2 288.6,385.7 290.1,386.3 291.6,386.9 293.1,387.6 294.6,388.2 296.1,388.9 297.6,389.5 299.1,390.2 300.6,390.7 302.1,391.3 303.6,391.8 305.1,392.4 306.6,392.9 308.1,393.4 309.6,393.8 311.1,394.2 312.6,394.4 314.1,394.6 315.6,394.8 317.1,395.0 318.6,395.1 320.1,395.3 321.6,395.4 323.1,395.5 324.6,395.6 326.1,395.6 327.6,395.6 329.1,395.6 330.6,395.5 332.1,395.4 333.6,395.2 335.1,395.0 336.6,394.7 338.1,394.4 339.6,394.1 341.1,393.7 342.6,393.3 344.1,392.9 345.6,392.4 347.1,392.0 348.6,391.5 350.1,391.0 351.6,390.5 353.1,390.0 354.6,389.6 356.1,389.1 357.6,388.7 359.1,388.2 360.6,387.8 362.1,387.5 363.6,387.1 365.1,386.7 366.6,386.3 368.1,386.0 369.6,385.6 371.1,385.2 372.6,384.9 374.1,384.5 375.6,384.2 377.1,383.8 378.6,383.5 380.1,383.1 381.6,382.8 383.1,382.4 384.6,382.0 386.1,381.7 387.6,381.3 389.1,380.9 390.6,380.5 392.1,380.1 393.6,379.7 395.1,379.2 396.6,378.8 398.1,378.3 399.6,377.7 401.1,377.2 402.6,376.7 404.1,376.2 405.6,375.6 407.1,375.1 408.6,374.6 410.1,374.2 411.6,373.7 413.1,373.4 414.6,373.0 416.1,372.7 417.6,372.5 419.1,372.3 420.6,372.1 422.1,371.9 423.6,371.7 425.1,371.6 426.6,371.4 428.1,371.3 429.6,371.1 431.1,371.0 432.6,370.9 434.1,370.8 435.6,370.7 437.1,370.6 438.6,370.5 440.1,370.4 441.6,370.3 443.1,370.2 444.6,370.1 446.1,370.1 447.6,370.0 449.1,369.9 450.6,369.9 452.1,369.8 453.6,369.7 455.1,369.6 456.6,369.6 458.1,369.5 459.6,369.4 461.1,369.4 462.6,369.3 464.1,369.2 465.6,369.1 467.1,369.1 468.6,369.0 470.1,369.0 471.6,368.9 473.1,368.9 474.6,368.8 476.1,368.8 477.6,368.8 479.1,368.8 480.6,368.8 482.1,368.8 483.6,368.8 485.1,368.8 486.6,368.8 488.1,368.9 489.6,368.9 491.1,369.0 492.6,369.0 494.1,369.1 495.6,369.2 497.1,369.2 498.6,369.3 500.1,369.4 501.6,369.5 503.1,369.5 504.6,369.6 506.1,369.7 507.6,369.8 509.1,369.9 510.6,369.9 512.1,370.0 513.6,370.1 515.1,370.2 516.6,370.2 518.1,370.3 519.6,370.4 521.1,370.4 522.6,370.5 524.1,370.6 525.6,370.6 527.1,370.7 528.6,370.7 530.1,370.8 531.6,370.8 533.1,370.9 534.6,370.9 536.1,371.0 537.6,371.1 539.1,371.1 540.6,371.2 542.1,371.2 543.6,371.3 545.1,371.3 546.6,371.4 548.1,371.4 549.6,371.5 551.1,371.5 552.6,371.6 554.1,371.6 555.6,371.7 557.1,371.7 558.6,371.8 560.1,371.8 561.6,371.9 563.1,371.9 564.6,372.0 566.1,372.0 567.6,372.0 569.1,372.1 570.6,372.1 572.1,372.2 573.6,372.2 575.1,372.3 576.6,372.3 578.1,372.3 579.6,372.4 581.1,372.4 582.6,372.4 584.1,372.4 585.6,372.5 587.1,372.5 588.6,372.5 590.1,372.5 591.6,372.5 593.1,372.5 594.6,372.5 596.1,372.4 597.6,372.4 599.1,372.3 600.6,372.2 602.1,372.1 603.6,372.0 605.1,371.9 606.6,371.8 608.1,371.7 609.6,371.6 611.1,371.4 612.6,371.3 614.1,371.1 615.6,371.0 617.1,370.8 618.6,370.7 620.1,370.5 621.6,370.3 623.1,370.1 624.6,370.0 626.1,369.8 627.6,369.6 629.1,369.5 630.6,369.3 632.1,369.1 633.6,369.0 635.1,368.8 636.6,368.6 638.1,368.4 639.6,368.3 641.1,368.1 642.6,367.9 644.1,367.6 645.6,367.4 647.1,367.2 648.6,366.9 650.1,366.7 651.6,366.5 653.1,366.2 654.6,365.9 656.1,365.7 657.6,365.4 659.1,365.1 660.6,364.8 662.1,364.6 663.6,364.3 665.1,364.0 666.6,363.7 668.1,363.4 669.6,363.1 671.1,362.8 672.6,362.5 674.1,362.2 675.6,361.8 677.1,361.5 678.6,361.2 680.1,360.8 681.6,360.4 683.1,360.1 684.6,359.7 686.1,359.3 687.6,358.9 689.1,358.5 690.6,358.1 692.1,357.7 693.6,357.3 695.1,356.9 696.6,356.4 698.1,356.0 699.6,355.6 701.1,355.2 702.6,354.7 704.1,354.3 705.6,353.8 707.1,353.3 708.6,352.9 710.1,352.5 711.6,352.1 713.1,351.7 714.6,351.3 716.1,351.0 717.6,350.6 719.1,350.3 720.6,349.9 722.1,349.6 723.6,349.2 725.1,348.9 726.6,348.6 728.1,348.2 729.6,347.9 731.1,347.6 732.6,347.3 734.1,346.9 735.6,346.6 737.1,346.3 738.6,345.9 740.1,345.6 741.6,345.2 743.1,344.9 744.6,344.5 746.1,344.2 747.6,343.8 749.1,343.4 750.6,342.9 752.1,342.4 753.6,342.0 755.1,341.5 756.6,341.1 758.1,340.7 759.6,340.4 761.1,340.1 762.6,339.9 764.1,339.7 765.6,339.5 767.1,339.4 768.6,339.2 770.1,339.1 771.6,339.0 773.1,338.8 774.6,338.7 776.1,338.5 777.6,338.4 779.1,338.2 780.6,338.0 782.1,337.8 783.6,337.6 785.1,337.4 786.6,337.3 788.1,337.1 789.6,336.9 791.1,336.7 792.6,336.4 794.1,336.2 795.6,336.0 797.1,335.8 798.6,335.6 800.1,335.4 801.6,335.2 803.1,334.9 804.6,334.7 806.1,334.4 807.6,334.2 809.1,333.9 810.6,333.6 812.1,333.4 813.6,333.1 815.1,332.8 816.6,332.6 818.1,332.3 819.6,332.1 821.1,331.8 822.6,331.6 824.1,331.3 825.6,331.1 827.1,330.9 828.6,330.7 830.1,330.5 831.6,330.3 833.1,330.1 834.6,330.0 836.1,329.8 837.6,329.6 839.1,329.5 840.6,329.3 842.1,329.2 843.6,329.0 845.1,328.9 846.6,328.7 848.1,328.6 849.6,328.4 851.1,328.3 852.6,328.2 854.1,328.0 855.6,327.9 857.1,327.8 858.6,327.6 860.1,327.5 861.6,327.4 863.1,327.2 864.6,327.1 866.1,327.0 867.6,326.8 869.1,326.7 870.6,326.6 872.1,326.5 873.6,326.3 875.1,326.2 876.6,326.1 878.1,326.0 879.6,325.8 881.1,325.7 882.6,325.6 884.1,325.5 885.6,325.4 887.1,325.2 888.6,325.1 890.1,325.0 891.6,324.9 893.1,324.7 894.6,324.6 896.1,324.5 897.6,324.3 899.1,324.2 900.6,324.1 902.1,323.9 903.6,323.8 905.1,323.7 906.6,323.6 908.1,323.5 909.6,323.4 911.1,323.4 912.6,323.3 914.1,323.2 915.6,323.2 917.1,323.1 918.6,323.1 920.1,323.0 921.6,323.0 923.1,322.9 924.6,322.9 926.1,322.8 927.6,322.8 929.1,322.8 930.6,322.7 932.1,322.7 933.6,322.7 935.1,322.6 936.6,322.6 938.1,322.6 939.6,322.6 941.1,322.6 942.6,322.6 944.1,322.6 945.6,322.6 947.1,322.6 948.6,322.6 950.1,322.6 951.6,322.5 953.1,322.5 954.6,322.5 956.1,322.5 957.6,322.5 959.1,322.5 960.6,322.5 962.1,322.5 963.6,322.6 965.1,322.6 966.6,322.6 968.1,322.6 969.6,322.6 971.1,322.6 972.6,322.6 974.1,322.6 975.6,322.6 977.1,322.6 978.6,322.6 980.1,322.7 981.6,322.7 983.0,322.7" fill="none" stroke="#ff8000" stroke-width="2.5" stroke-linejoin="round"/>
<polyline points="154.6,322.3 172.0,322.4 180.0,323.3 191.0,324.0 203.7,324.5 212.5,326.0 228.1,329.4 250.0,332.5 260.5,335.9 270.3,341.7 281.1,349.5 282.6,350.2 284.1,350.8 285.6,351.5 287.1,352.2 288.6,352.9 290.1,353.6 291.6,354.3 293.1,355.1 294.6,355.9 296.1,356.7 297.6,357.4 299.1,358.1 300.6,358.7 302.1,359.3 303.6,359.8 305.1,360.3 306.6,360.8 308.1,361.2 309.6,361.5 311.1,361.8 312.6,361.9 314.1,362.0 315.6,362.1 317.1,362.2 318.6,362.3 320.1,362.3 321.6,362.4 323.1,362.5 324.6,362.5 326.1,362.6 327.6,362.6 329.1,362.7 330.6,362.8 332.1,362.8 333.6,362.9 335.1,363.0 336.6,363.1 338.1,363.2 339.6,363.3 341.1,363.5 342.6,363.6 344.1,363.7 345.6,363.8 347.1,364.0 348.6,364.1 350.1,364.2 351.6,364.3 353.1,364.4 354.6,364.4 356.1,364.5 357.6,364.5 359.1,364.5 360.6,364.4 362.1,364.4 363.6,364.3 365.1,364.1 366.6,364.0 368.1,363.8 369.6,363.6 371.1,363.4 372.6,363.2 374.1,362.9 375.6,362.7 377.1,362.5 378.6,362.2 380.1,362.0 381.6,361.8 383.1,361.6 384.6,361.4 386.1,361.2 387.6,360.9 389.1,360.7 390.6,360.5 392.1,360.2 393.6,360.0 395.1,359.7 396.6,359.5 398.1,359.2 399.6,359.0 401.1,358.7 402.6,358.5 404.1,358.3 405.6,358.0 407.1,357.8 408.6,357.6 410.1,357.4 411.6,357.3 413.1,357.1 414.6,357.0 416.1,356.9 417.6,356.8 419.1,356.7 420.6,356.6 422.1,356.6 423.6,356.5 425.1,356.4 426.6,356.3 428.1,356.2 429.6,356.2 431.1,356.1 432.6,356.1 434.1,356.0 435.6,356.0 437.1,355.9 438.6,355.9 440.1,355.9 441.6,355.8 443.1,355.8 444.6,355.8 446.1,355.8 447.6,355.8 449.1,355.8 450.6,355.8 452.1,355.8 453.6,355.8 455.1,355.8 456.6,355.9 458.1,355.9 459.6,355.9 461.1,355.9 462.6,355.9 464.1,355.9 465.6,355.9 467.1,356.0 468.6,356.0 470.1,356.0 471.6,356.0 473.1,356.1 474.6,356.1 476.1,356.1 477.6,356.1 479.1,356.2 480.6,356.2 482.1,356.2 483.6,356.3 485.1,356.3 486.6,356.3 488.1,356.4 489.6,356.4 491.1,356.5 492.6,356.5 494.1,356.6 495.6,356.6 497.1,356.7 498.6,356.7 500.1,356.8 501.6,356.8 503.1,356.9 504.6,356.9 506.1,357.0 507.6,357.0 509.1,357.1 510.6,357.2 512.1,357.2 513.6,357.2 515.1,357.3 516.6,357.3 518.1,357.4 519.6,357.4 521.1,357.5 522.6,357.5 524.1,357.5 525.6,357.6 527.1,357.6 528.6,357.6 530.1,357.7 531.6,357.7 533.1,357.7 534.6,357.8 536.1,357.8 537.6,357.8 539.1,357.8 540.6,357.9 542.1,357.9 543.6,357.9 545.1,358.0 546.6,358.0 548.1,358.0 549.6,358.0 551.1,358.1 552.6,358.1 554.1,358.1 555.6,358.1 557.1,358.2 558.6,358.2 560.1,358.2 561.6,358.2 563.1,358.3 564.6,358.3 566.1,358.3 567.6,358.3 569.1,358.3 570.6,358.4 572.1,358.4 573.6,358.4 575.1,358.4 576.6,358.5 578.1,358.5 579.6,358.5 581.1,358.5 582.6,358.5 584.1,358.6 585.6,358.6 587.1,358.6 588.6,358.6 590.1,358.6 591.6,358.7 593.1,358.7 594.6,358.7 596.1,358.7 597.6,358.7 599.1,358.7 600.6,358.7 602.1,358.8 603.6,358.8 605.1,358.8 606.6,358.8 608.1,358.8 609.6,358.8 611.1,358.8 612.6,358.8 614.1,358.8 615.6,358.8 617.1,358.7 618.6,358.7 620.1,358.6 621.6,358.6 623.1,358.5 624.6,358.4 626.1,358.4 627.6,358.3 629.1,358.2 630.6,358.1 632.1,358.0 633.6,357.9 635.1,357.8 636.6,357.7 638.1,357.6 639.6,357.5 641.1,357.4 642.6,357.3 644.1,357.2 645.6,357.1 647.1,357.0 648.6,356.9 650.1,356.8 651.6,356.7 653.1,356.6 654.6,356.5 656.1,356.3 657.6,356.2 659.1,356.0 660.6,355.9 662.1,355.7 663.6,355.5 665.1,355.4 666.6,355.2 668.1,355.0 669.6,354.8 671.1,354.6 672.6,354.4 674.1,354.2 675.6,354.0 677.1,353.7 678.6,353.5 680.1,353.3 681.6,353.0 683.1,352.8 684.6,352.6 686.1,352.3 687.6,352.0 689.1,351.7 690.6,351.3 692.1,350.9 693.6,350.5 695.1,350.2 696.6,349.8 698.1,349.4 699.6,349.1 701.1,348.8 702.6,348.5 704.1,348.2 705.6,347.9 707.1,347.7 708.6,347.4 710.1,347.2 711.6,346.9 713.1,346.7 714.6,346.4 716.1,346.2 717.6,345.9 719.1,345.6 720.6,345.4 722.1,345.1 723.6,344.8 725.1,344.5 726.6,344.1 728.1,343.8 729.6,343.5 731.1,343.1 732.6,342.8 734.1,342.4 735.6,342.0 737.1,341.7 738.6,341.3 740.1,340.9 741.6,340.6 743.1,340.2 744.6,339.9 746.1,339.5 747.6,339.2 749.1,338.9 750.6,338.5 752.1,338.2 753.6,337.9 755.1,337.7 756.6,337.4 758.1,337.2 759.6,337.0 761.1,336.8 762.6,336.6 764.1,336.4 765.6,336.3 767.1,336.2 768.6,336.0 770.1,335.9 771.6,335.8 773.1,335.7 774.6,335.6 776.1,335.5 777.6,335.3 779.1,335.2 780.6,335.0 782.1,334.9 783.6,334.7 785.1,334.5 786.6,334.3 788.1,334.1 789.6,334.0 791.1,333.8 792.6,333.6 794.1,333.4 795.6,333.2 797.1,333.0 798.6,332.9 800.1,332.7 801.6,332.5 803.1,332.3 804.6,332.2 806.1,332.0 807.6,331.8 809.1,331.6 810.6,331.4 812.1,331.3 813.6,331.1 815.1,330.9 816.6,330.7 818.1,330.6 819.6,330.4 821.1,330.2 822.6,330.1 824.1,329.9 825.6,329.7 827.1,329.6 828.6,329.4 830.1,329.3 831.6,329.1 833.1,329.0 834.6,328.9 836.1,328.7 837.6,328.6 839.1,328.5 840.6,328.4 842.1,328.2 843.6,328.1 845.1,328.0 846.6,327.9 848.1,327.8 849.6,327.6 851.1,327.5 852.6,327.4 854.1,327.3 855.6,327.2 857.1,327.0 858.6,326.9 860.1,326.8 861.6,326.7 863.1,326.5 864.6,326.4 866.1,326.3 867.6,326.1 869.1,326.0 870.6,325.8 872.1,325.7 873.6,325.6 875.1,325.4 876.6,325.3 878.1,325.1 879.6,325.0 881.1,324.9 882.6,324.8 884.1,324.6 885.6,324.5 887.1,324.4 888.6,324.3 890.1,324.2 891.6,324.1 893.1,324.0 894.6,323.9 896.1,323.8 897.6,323.7 899.1,323.7 900.6,323.6 902.1,323.5 903.6,323.4 905.1,323.4 906.6,323.3 908.1,323.3 909.6,323.2 911.1,323.2 912.6,323.1 914.1,323.1 915.6,323.1 917.1,323.0 918.6,323.0 920.1,322.9 921.6,322.9 923.1,322.9 924.6,322.8 926.1,322.8 927.6,322.8 929.1,322.7 930.6,322.7 932.1,322.7 933.6,322.7 935.1,322.6 936.6,322.6 938.1,322.6 939.6,322.6 941.1,322.6 942.6,322.6 944.1,322.6 945.6,322.6 947.1,322.6 948.6,322.6 950.1,322.6 951.6,322.6 953.1,322.6 954.6,322.6 956.1,322.6 957.6,322.6 959.1,322.6 960.6,322.6 962.1,322.6 963.6,322.6 965.1,322.6 966.6,322.6 968.1,322.6 969.6,322.6 971.1,322.6 972.6,322.6 974.1,322.6 975.6,322.6 977.1,322.6 978.6,322.7 980.1,322.7 981.6,322.7 983.0,322.7" fill="none" stroke="#800080" stroke-width="2.5" stroke-linejoin="round"/>
<polyline points="154.4,317.7 161.7,318.5 169.5,317.7 175.4,319.6 198.8,320.1 212.5,321.3 218.4,321.6 237.5,325.0 250.0,326.3 266.4,330.0 283.0,332.0 284.5,332.6 286.0,333.1 287.5,333.6 289.0,334.2 290.5,334.7 292.0,335.1 293.5,335.6 295.0,336.0 296.5,336.4 298.0,336.8 299.5,337.1 301.0,337.5 302.5,337.8 304.0,338.2 305.5,338.5 307.0,338.8 308.5,339.2 310.0,339.5 311.5,339.8 313.0,340.2 314.5,340.5 316.0,340.9 317.5,341.3 319.0,341.6 320.5,342.0 322.0,342.3 323.5,342.7 325.0,343.0 326.5,343.4 328.0,343.7 329.5,344.0 331.0,344.3 332.5,344.6 334.0,344.8 335.5,345.1 337.0,345.3 338.5,345.6 340.0,345.8 341.5,346.0 343.0,346.3 344.5,346.5 346.0,346.7 347.5,347.0 349.0,347.2 350.5,347.4 352.0,347.6 353.5,347.8 355.0,348.0 356.5,348.1 358.0,348.3 359.5,348.4 361.0,348.5 362.5,348.6 364.0,348.7 365.5,348.8 367.0,348.8 368.5,348.9 370.0,348.9 371.5,348.8 373.0,348.8 374.5,348.7 376.0,348.6 377.5,348.5 379.0,348.3 380.5,348.2 382.0,348.0 383.5,347.8 385.0,347.6 386.5,347.4 388.0,347.1 389.5,346.9 391.0,346.7 392.5,346.5 394.0,346.2 395.5,346.0 397.0,345.8 398.5,345.6 400.0,345.4 401.5,345.2 403.0,345.0 404.5,344.9 406.0,344.7 407.5,344.6 409.0,344.5 410.5,344.5 412.0,344.4 413.5,344.4 415.0,344.3 416.5,344.3 418.0,344.2 419.5,344.2 421.0,344.1 422.5,344.1 424.0,344.1 425.5,344.0 427.0,344.0 428.5,344.0 430.0,343.9 431.5,343.9 433.0,343.9 434.5,343.8 436.0,343.8 437.5,343.8 439.0,343.8 440.5,343.8 442.0,343.8 443.5,343.8 445.0,343.8 446.5,343.8 448.0,343.8 449.5,343.8 451.0,343.8 452.5,343.8 454.0,343.8 455.5,343.8 457.0,343.9 458.5,343.9 460.0,343.9 461.5,343.9 463.0,343.9 464.5,343.9 466.0,343.9 467.5,344.0 469.0,344.0 470.5,344.0 472.0,344.0 473.5,344.0 475.0,344.1 476.5,344.1 478.0,344.1 479.5,344.2 481.0,344.2 482.5,344.2 484.0,344.3 485.5,344.3 487.0,344.4 488.5,344.4 490.0,344.5 491.5,344.5 493.0,344.6 494.5,344.7 496.0,344.8 497.5,344.9 499.0,344.9 500.5,345.0 502.0,345.1 503.5,345.2 505.0,345.3 506.5,345.4 508.0,345.5 509.5,345.6 511.0,345.7 512.5,345.8 514.0,345.9 515.5,345.9 517.0,346.0 518.5,346.1 520.0,346.2 521.5,346.3 523.0,346.3 524.5,346.4 526.0,346.5 527.5,346.5 529.0,346.6 530.5,346.6 532.0,346.7 533.5,346.8 535.0,346.8 536.5,346.9 538.0,346.9 539.5,347.0 541.0,347.1 542.5,347.1 544.0,347.2 545.5,347.2 547.0,347.3 548.5,347.4 550.0,347.4 551.5,347.5 553.0,347.5 554.5,347.6 556.0,347.6 557.5,347.7 559.0,347.7 560.5,347.8 562.0,347.9 563.5,347.9 565.0,348.0 566.5,348.0 568.0,348.1 569.5,348.1 571.0,348.2 572.5,348.3 574.0,348.3 575.5,348.4 577.0,348.4 578.5,348.5 580.0,348.6 581.5,348.6 583.0,348.7 584.5,348.7 586.0,348.8 587.5,348.8 589.0,348.9 590.5,348.9 592.0,349.0 593.5,349.0 595.0,349.1 596.5,349.1 598.0,349.2 599.5,349.2 601.0,349.2 602.5,349.3 604.0,349.3 605.5,349.3 607.0,349.3 608.5,349.3 610.0,349.3 611.5,349.3 613.0,349.2 614.5,349.2 616.0,349.2 617.5,349.1 619.0,349.0 620.5,349.0 622.0,348.9 623.5,348.8 625.0,348.7 626.5,348.6 628.0,348.5 629.5,348.4 631.0,348.3 632.5,348.2 634.0,348.1 635.5,347.9 637.0,347.8 638.5,347.7 640.0,347.6 641.5,347.5 643.0,347.3 644.5,347.2 646.0,347.1 647.5,347.0 649.0,346.9 650.5,346.8 652.0,346.6 653.5,346.5 655.0,346.4 656.5,346.2 658.0,346.1 659.5,345.9 661.0,345.8 662.5,345.6 664.0,345.5 665.5,345.3 667.0,345.1 668.5,345.0 670.0,344.8 671.5,344.6 673.0,344.4 674.5,344.3 676.0,344.1 677.5,343.9 679.0,343.7 680.5,343.5 682.0,343.4 683.5,343.2 685.0,343.0 686.5,342.8 688.0,342.6 689.5,342.4 691.0,342.2 692.5,342.0 694.0,341.8 695.5,341.6 697.0,341.4 698.5,341.2 700.0,341.0 701.5,340.8 703.0,340.6 704.5,340.3 706.0,340.1 707.5,339.9 709.0,339.7 710.5,339.5 712.0,339.3 713.5,339.1 715.0,338.9 716.5,338.7 718.0,338.5 719.5,338.3 721.0,338.2 722.5,338.0 724.0,337.8 725.5,337.7 727.0,337.5 728.5,337.4 730.0,337.2 731.5,337.1 733.0,336.9 734.5,336.8 736.0,336.6 737.5,336.5 739.0,336.4 740.5,336.2 742.0,336.1 743.5,336.0 745.0,335.8 746.5,335.7 748.0,335.6 749.5,335.4 751.0,335.3 752.5,335.2 754.0,335.0 755.5,334.9 757.0,334.8 758.5,334.6 760.0,334.5 761.5,334.4 763.0,334.2 764.5,334.1 766.0,334.0 767.5,333.8 769.0,333.7 770.5,333.5 772.0,333.4 773.5,333.3 775.0,333.1 776.5,333.0 778.0,332.9 779.5,332.7 781.0,332.6 782.5,332.5 784.0,332.4 785.5,332.2 787.0,332.1 788.5,332.0 790.0,331.9 791.5,331.7 793.0,331.6 794.5,331.5 796.0,331.3 797.5,331.2 799.0,331.1 800.5,331.0 802.0,330.8 803.5,330.7 805.0,330.5 806.5,330.4 808.0,330.3 809.5,330.1 811.0,330.0 812.5,329.8 814.0,329.7 815.5,329.5 817.0,329.4 818.5,329.2 820.0,329.1 821.5,328.9 823.0,328.8 824.5,328.7 826.0,328.5 827.5,328.4 829.0,328.3 830.5,328.2 832.0,328.0 833.5,327.9 835.0,327.8 836.5,327.7 838.0,327.6 839.5,327.5 841.0,327.4 842.5,327.3 844.0,327.2 845.5,327.1 847.0,327.0 848.5,326.9 850.0,326.8 851.5,326.7 853.0,326.6 854.5,326.5 856.0,326.4 857.5,326.3 859.0,326.2 860.5,326.1 862.0,325.9 863.5,325.8 865.0,325.7 866.5,325.6 868.0,325.5 869.5,325.3 871.0,325.2 872.5,325.1 874.0,325.0 875.5,324.8 877.0,324.7 878.5,324.6 880.0,324.5 881.5,324.4 883.0,324.3 884.5,324.1 886.0,324.0 887.5,323.9 889.0,323.9 890.5,323.8 892.0,323.7 893.5,323.6 895.0,323.5 896.5,323.5 898.0,323.4 899.5,323.3 901.0,323.3 902.5,323.2 904.0,323.2 905.5,323.1 907.0,323.1 908.5,323.0 910.0,323.0 911.5,323.0 913.0,322.9 914.5,322.9 916.0,322.9 917.5,322.9 919.0,322.8 920.5,322.8 922.0,322.8 923.5,322.8 925.0,322.7 926.5,322.7 928.0,322.7 929.5,322.7 931.0,322.7 932.5,322.6 934.0,322.6 935.5,322.6 937.0,322.6 938.5,322.6 940.0,322.6 941.5,322.6 943.0,322.6 944.5,322.6 946.0,322.6 947.5,322.6 949.0,322.6 950.5,322.6 952.0,322.6 953.5,322.6 955.0,322.6 956.5,322.6 958.0,322.6 959.5,322.6 961.0,322.6 962.5,322.6 964.0,322.6 965.5,322.6 967.0,322.6 968.5,322.6 970.0,322.6 971.5,322.6 973.0,322.6 974.5,322.6 976.0,322.7 977.5,322.7 979.0,322.7 980.5,322.7 982.0,322.7 983.0,322.7" fill="none" stroke="#8000ff" stroke-width="2.5" stroke-linejoin="round"/>
<polyline points="154.6,321.0 200.0,321.5 262.5,323.8 264.0,323.8 265.5,323.9 267.0,324.0 268.5,324.1 270.0,324.2 271.5,324.3 273.0,324.4 274.5,324.6 276.0,324.7 277.5,324.9 279.0,325.0 280.5,325.2 282.0,325.3 283.5,325.5 285.0,325.7 286.5,325.9 288.0,326.1 289.5,326.3 291.0,326.5 292.5,326.8 294.0,327.0 295.5,327.3 297.0,327.6 298.5,327.9 300.0,328.1 301.5,328.3 303.0,328.5 304.5,328.7 306.0,328.9 307.5,329.1 309.0,329.4 310.5,329.6 312.0,329.8 313.5,330.1 315.0,330.4 316.5,330.7 318.0,331.0 319.5,331.3 321.0,331.6 322.5,331.9 324.0,332.2 325.5,332.5 327.0,332.8 328.5,333.0 330.0,333.3 331.5,333.5 333.0,333.6 334.5,333.8 336.0,333.8 337.5,333.8 339.0,333.6 340.5,333.5 342.0,333.5 343.5,333.6 345.0,333.7 346.5,333.8 348.0,334.0 349.5,334.2 351.0,334.5 352.5,334.7 354.0,335.0 355.5,335.2 357.0,335.5 358.5,335.7 360.0,336.0 361.5,336.2 363.0,336.4 364.5,336.5 366.0,336.7 367.5,336.7 369.0,336.8 370.5,336.8 372.0,336.8 373.5,336.7 375.0,336.7 376.5,336.6 378.0,336.5 379.5,336.5 381.0,336.4 382.5,336.3 384.0,336.2 385.5,336.1 387.0,336.0 388.5,335.9 390.0,335.8 391.5,335.7 393.0,335.7 394.5,335.6 396.0,335.5 397.5,335.5 399.0,335.5 400.5,335.4 402.0,335.4 403.5,335.3 405.0,335.3 406.5,335.3 408.0,335.2 409.5,335.2 411.0,335.2 412.5,335.1 414.0,335.1 415.5,335.1 417.0,335.0 418.5,335.0 420.0,335.0 421.5,335.0 423.0,334.9 424.5,334.9 426.0,334.9 427.5,334.9 429.0,334.9 430.5,334.9 432.0,334.9 433.5,335.0 435.0,335.0 436.5,335.0 438.0,335.1 439.5,335.1 441.0,335.2 442.5,335.3 444.0,335.4 445.5,335.4 447.0,335.5 448.5,335.6 450.0,335.7 451.5,335.8 453.0,335.9 454.5,336.0 456.0,336.1 457.5,336.2 459.0,336.2 460.5,336.3 462.0,336.4 463.5,336.5 465.0,336.6 466.5,336.6 468.0,336.7 469.5,336.8 471.0,336.9 472.5,336.9 474.0,337.0 475.5,337.1 477.0,337.1 478.5,337.2 480.0,337.3 481.5,337.4 483.0,337.4 484.5,337.5 486.0,337.5 487.5,337.6 489.0,337.7 490.5,337.7 492.0,337.8 493.5,337.8 495.0,337.9 496.5,337.9 498.0,338.0 499.5,338.0 501.0,338.1 502.5,338.2 504.0,338.2 505.5,338.3 507.0,338.3 508.5,338.4 510.0,338.4 511.5,338.5 513.0,338.5 514.5,338.6 516.0,338.6 517.5,338.6 519.0,338.7 520.5,338.7 522.0,338.8 523.5,338.8 525.0,338.9 526.5,338.9 528.0,339.0 529.5,339.0 531.0,339.1 532.5,339.1 534.0,339.2 535.5,339.2 537.0,339.2 538.5,339.3 540.0,339.3 541.5,339.4 543.0,339.4 544.5,339.5 546.0,339.5 547.5,339.6 549.0,339.6 550.5,339.6 552.0,339.7 553.5,339.7 555.0,339.8 556.5,339.8 558.0,339.8 559.5,339.9 561.0,339.9 562.5,339.9 564.0,340.0 565.5,340.0 567.0,340.0 568.5,340.0 570.0,340.1 571.5,340.1 573.0,340.1 574.5,340.1 576.0,340.2 577.5,340.2 579.0,340.2 580.5,340.2 582.0,340.2 583.5,340.3 585.0,340.3 586.5,340.3 588.0,340.3 589.5,340.3 591.0,340.4 592.5,340.4 594.0,340.4 595.5,340.4 597.0,340.4 598.5,340.4 600.0,340.4 601.5,340.4 603.0,340.5 604.5,340.5 606.0,340.5 607.5,340.5 609.0,340.5 610.5,340.5 612.0,340.5 613.5,340.5 615.0,340.5 616.5,340.5 618.0,340.5 619.5,340.5 621.0,340.5 622.5,340.5 624.0,340.4 625.5,340.4 627.0,340.4 628.5,340.4 630.0,340.4 631.5,340.3 633.0,340.3 634.5,340.3 636.0,340.3 637.5,340.2 639.0,340.2 640.5,340.2 642.0,340.1 643.5,340.1 645.0,340.1 646.5,340.0 648.0,340.0 649.5,339.9 651.0,339.9 652.5,339.8 654.0,339.8 655.5,339.7 657.0,339.6 658.5,339.5 660.0,339.4 661.5,339.3 663.0,339.2 664.5,339.1 666.0,339.0 667.5,338.9 669.0,338.8 670.5,338.7 672.0,338.6 673.5,338.4 675.0,338.3 676.5,338.2 678.0,338.1 679.5,337.9 681.0,337.8 682.5,337.7 684.0,337.6 685.5,337.5 687.0,337.3 688.5,337.2 690.0,337.1 691.5,336.9 693.0,336.8 694.5,336.6 696.0,336.5 697.5,336.3 699.0,336.2 700.5,336.1 702.0,335.9 703.5,335.7 705.0,335.6 706.5,335.4 708.0,335.3 709.5,335.1 711.0,334.9 712.5,334.8 714.0,334.6 715.5,334.4 717.0,334.3 718.5,334.2 720.0,334.0 721.5,333.9 723.0,333.8 724.5,333.6 726.0,333.5 727.5,333.4 729.0,333.3 730.5,333.3 732.0,333.2 733.5,333.1 735.0,333.0 736.5,333.0 738.0,332.9 739.5,332.8 741.0,332.7 742.5,332.7 744.0,332.6 745.5,332.5 747.0,332.5 748.5,332.4 750.0,332.3 751.5,332.2 753.0,332.2 754.5,332.1 756.0,332.0 757.5,331.9 759.0,331.8 760.5,331.7 762.0,331.5 763.5,331.4 765.0,331.3 766.5,331.1 768.0,331.0 769.5,330.8 771.0,330.6 772.5,330.5 774.0,330.3 775.5,330.2 777.0,330.0 778.5,329.9 780.0,329.8 781.5,329.7 783.0,329.6 784.5,329.5 786.0,329.5 787.5,329.4 789.0,329.3 790.5,329.3 792.0,329.2 793.5,329.2 795.0,329.1 796.5,329.0 798.0,328.9 799.5,328.8 801.0,328.7 802.5,328.6 804.0,328.5 805.5,328.3 807.0,328.2 808.5,328.0 810.0,327.9 811.5,327.7 813.0,327.6 814.5,327.4 816.0,327.2 817.5,327.1 819.0,326.9 820.5,326.7 822.0,326.6 823.5,326.4 825.0,326.3 826.5,326.1 828.0,326.0 829.5,325.8 831.0,325.7 832.5,325.6 834.0,325.5 835.5,325.4 837.0,325.2 838.5,325.1 840.0,325.0 841.5,324.9 843.0,324.8 844.5,324.7 846.0,324.6 847.5,324.5 849.0,324.4 850.5,324.2 852.0,324.1 853.5,324.0 855.0,323.9 856.5,323.8 858.0,323.7 859.5,323.6 861.0,323.5 862.5,323.4 864.0,323.3 865.5,323.2 867.0,323.1 868.5,323.0 870.0,322.9 871.5,322.8 873.0,322.7 874.5,322.6 876.0,322.5 877.5,322.4 879.0,322.3 880.5,322.2 882.0,322.1 883.5,322.0 885.0,321.9 886.5,321.9 888.0,321.8 889.5,321.7 891.0,321.6 892.5,321.6 894.0,321.5 895.5,321.5 897.0,321.4 898.5,321.3 900.0,321.3 901.5,321.2 903.0,321.2 904.5,321.1 906.0,321.1 907.5,321.0 909.0,320.9 910.5,320.9 912.0,320.9 913.5,320.8 915.0,320.8 916.5,320.7 918.0,320.7 919.5,320.7 921.0,320.6 922.5,320.6 924.0,320.6 925.5,320.6 927.0,320.5 928.5,320.5 930.0,320.5 931.5,320.5 933.0,320.4 934.5,320.4 936.0,320.4 937.5,320.4 939.0,320.3 940.5,320.3 942.0,320.3 943.5,320.3 945.0,320.3 946.5,320.2 948.0,320.2 949.5,320.2 951.0,320.2 952.5,320.2 954.0,320.2 955.5,320.1 957.0,320.1 958.5,320.1 960.0,320.1 961.5,320.1 963.0,320.1 964.5,320.1 966.0,320.1 967.5,320.1 969.0,320.1 970.5,320.1 972.0,320.1 973.5,320.1 975.0,320.1 976.5,320.1 978.0,320.1 979.5,320.1 981.0,320.1 982.5,320.1 983.0,320.1" fill="none" stroke="#000000" stroke-width="2.2" stroke-linejoin="round"/>
</g>
<line x1="161" y1="323.5" x2="175" y2="323.5" stroke="#000" stroke-width="2"/>
<line x1="915" y1="324" x2="982" y2="324" stroke="#000" stroke-width="2"/>
<!-- inset background -->
<rect x="620" y="22" width="360" height="294" fill="#fff"/>
<!-- main frame -->
<g stroke="#000" stroke-width="2.7" fill="none" stroke-linecap="butt">
<polyline points="148.2,19.7 982.8,19.7 982.8,627.8 148.2,627.8" stroke-linejoin="round"/>
<line x1="154.7" y1="18.35" x2="154.7" y2="629.15"/>
<!-- y ticks -->
<line x1="142.2" y1="121" x2="154.7" y2="121"/>
<line x1="142.2" y1="323.7" x2="154.7" y2="323.7"/>
<line x1="142.2" y1="526.3" x2="154.7" y2="526.3"/>
<line x1="148.2" y1="222.3" x2="154.7" y2="222.3"/>
<line x1="148.2" y1="425" x2="154.7" y2="425"/>
<!-- x ticks -->
<line x1="229.9" y1="627.8" x2="229.9" y2="639.7"/>
<line x1="606.3" y1="627.8" x2="606.3" y2="639.7"/>
<line x1="982.8" y1="627.8" x2="982.8" y2="639.7"/>
<line x1="418.1" y1="627.8" x2="418.1" y2="633.8"/>
<line x1="794.5" y1="627.8" x2="794.5" y2="633.8"/>
</g>
<g font-size="36.5">
<text x="82.29 98.91 116.11" y="130.7" font-size="36.5">100</text>
<text x="116.61" y="333.2" font-size="36.5">0</text>
<text x="69.90 82.49 99.11 116.71" y="535.9" font-size="36.5">-100</text>
<text x="202.59 220.91 238.41" y="674.3" font-size="36.5">200</text>
<text x="579.29 597.09 614.68" y="674.3" font-size="36.5">225</text>
<text x="955.59 973.58 991.41" y="674.3" font-size="36.5">250</text>
</g>
<text x="399.7" y="737.8" font-size="48.4" style="font-kerning:none">Wavelength (nm)</text>
<text transform="translate(50,428) rotate(-90) scale(1.08,1)" font-size="45.5">&#952;</text>
<text transform="translate(50.2,391.2) rotate(-90)" font-size="47" letter-spacing="1.3">(mdeg)</text>

<!-- inset -->
<g stroke="#333" stroke-width="1" fill="none">
<line x1="695.6" y1="16.3" x2="695.6" y2="262.5"/>
<line x1="695.1" y1="262" x2="984" y2="262"/>
<line x1="691.6" y1="36.4" x2="695.9" y2="36.4"/>
<line x1="691.6" y1="139.2" x2="695.9" y2="139.2"/>
<line x1="691.6" y1="241.5" x2="695.9" y2="241.5"/>
<line x1="693.5" y1="87.8" x2="695.9" y2="87.8"/>
<line x1="693.5" y1="190.5" x2="695.9" y2="190.5"/>
<line x1="719.6" y1="262" x2="719.6" y2="265.5"/>
<line x1="816" y1="262" x2="816" y2="265.5"/>
<line x1="912.5" y1="262" x2="912.5" y2="265.5"/>
<line x1="768.5" y1="262" x2="768.5" y2="264"/>
<line x1="864.9" y1="262" x2="864.9" y2="264"/>
<line x1="961" y1="262" x2="961" y2="264"/>
</g>
<polyline points="721.7,242.4 743.7,221.7 767.6,195.4 792.7,169.4 816.0,144.6 840.6,121.4 864.1,103.1 888.2,85.3 912.7,72.0 937.1,61.2 960.6,52.7" fill="none" stroke="#222" stroke-width="0.9"/>
<polyline points="721.7,167.4 743.7,173.5 767.6,171.4 792.7,160.7 816.0,158.5 840.6,157.8 864.1,147.5 888.2,99.6 912.7,67.5 937.1,48.2 960.6,38.2" fill="none" stroke="#f33" stroke-width="0.9"/>
<rect x="719.2" y="239.9" width="5" height="5" fill="#000"/><rect x="741.2" y="219.2" width="5" height="5" fill="#000"/><rect x="765.1" y="192.9" width="5" height="5" fill="#000"/><rect x="790.2" y="166.9" width="5" height="5" fill="#000"/><rect x="813.5" y="142.1" width="5" height="5" fill="#000"/><rect x="838.1" y="118.9" width="5" height="5" fill="#000"/><rect x="861.6" y="100.6" width="5" height="5" fill="#000"/><rect x="885.7" y="82.8" width="5" height="5" fill="#000"/><rect x="910.2" y="69.5" width="5" height="5" fill="#000"/><rect x="934.6" y="58.7" width="5" height="5" fill="#000"/><rect x="958.1" y="50.2" width="5" height="5" fill="#000"/>
<ellipse cx="721.7" cy="167.4" rx="3" ry="3.3" fill="#f00"/><ellipse cx="743.7" cy="173.5" rx="3" ry="3.3" fill="#f00"/><ellipse cx="767.6" cy="171.4" rx="3" ry="3.3" fill="#f00"/><ellipse cx="792.7" cy="160.7" rx="3" ry="3.3" fill="#f00"/><ellipse cx="816.0" cy="158.5" rx="3" ry="3.3" fill="#f00"/><ellipse cx="840.6" cy="157.8" rx="3" ry="3.3" fill="#f00"/><ellipse cx="864.1" cy="147.5" rx="3" ry="3.3" fill="#f00"/><ellipse cx="888.2" cy="99.6" rx="3" ry="3.3" fill="#f00"/><ellipse cx="912.7" cy="67.5" rx="3" ry="3.3" fill="#f00"/><ellipse cx="937.1" cy="48.2" rx="3" ry="3.3" fill="#f00"/><ellipse cx="960.6" cy="38.2" rx="3" ry="3.3" fill="#f00"/>
<rect x="869.1" y="158.9" width="102.6" height="67.5" fill="#fff" stroke="#777" stroke-width="1.1"/>
<line x1="877.1" y1="178.4" x2="928.2" y2="178.4" stroke="#222" stroke-width="0.9"/>
<line x1="877.1" y1="211.3" x2="928.2" y2="211.3" stroke="#f33" stroke-width="0.9"/>
<rect x="900.3" y="175.9" width="5" height="5" fill="#000"/>
<ellipse cx="902.8" cy="211.3" rx="3" ry="3.3" fill="#f00"/>
<g font-size="27.3">
<text x="933.52 944.82 955.52" y="187.6" font-size="26.8">222</text>
<text x="933.52 944.98 954.46" y="219.9" font-size="26.8">204</text>
<text x="676.76" y="44.4" font-size="27.3">0</text>
<text x="657.79 665.22 676.76" y="147.2" font-size="27.3">-50</text>
<text x="645.99 654.60 665.66 676.46" y="249.3" font-size="27.3">-100</text>
<text x="707.60 719.96" y="283.6" font-size="27.3">20</text>
<text x="804.45 816.46" y="283.6" font-size="27.3">40</text>
<text x="900.83 912.46" y="283.6" font-size="27.3">60</text>
</g>
<text x="738.3" y="312.8" font-size="33.7" letter-spacing="-2.33" style="font-kerning:none">Temperature (&#176;C)</text>
<text transform="translate(649,209) rotate(-90)" font-size="32.5">&#952;</text>
<text transform="translate(648,183) rotate(-90)" font-size="32.5" letter-spacing="-2.3">(mdeg)</text>
</svg>
</body></html>
